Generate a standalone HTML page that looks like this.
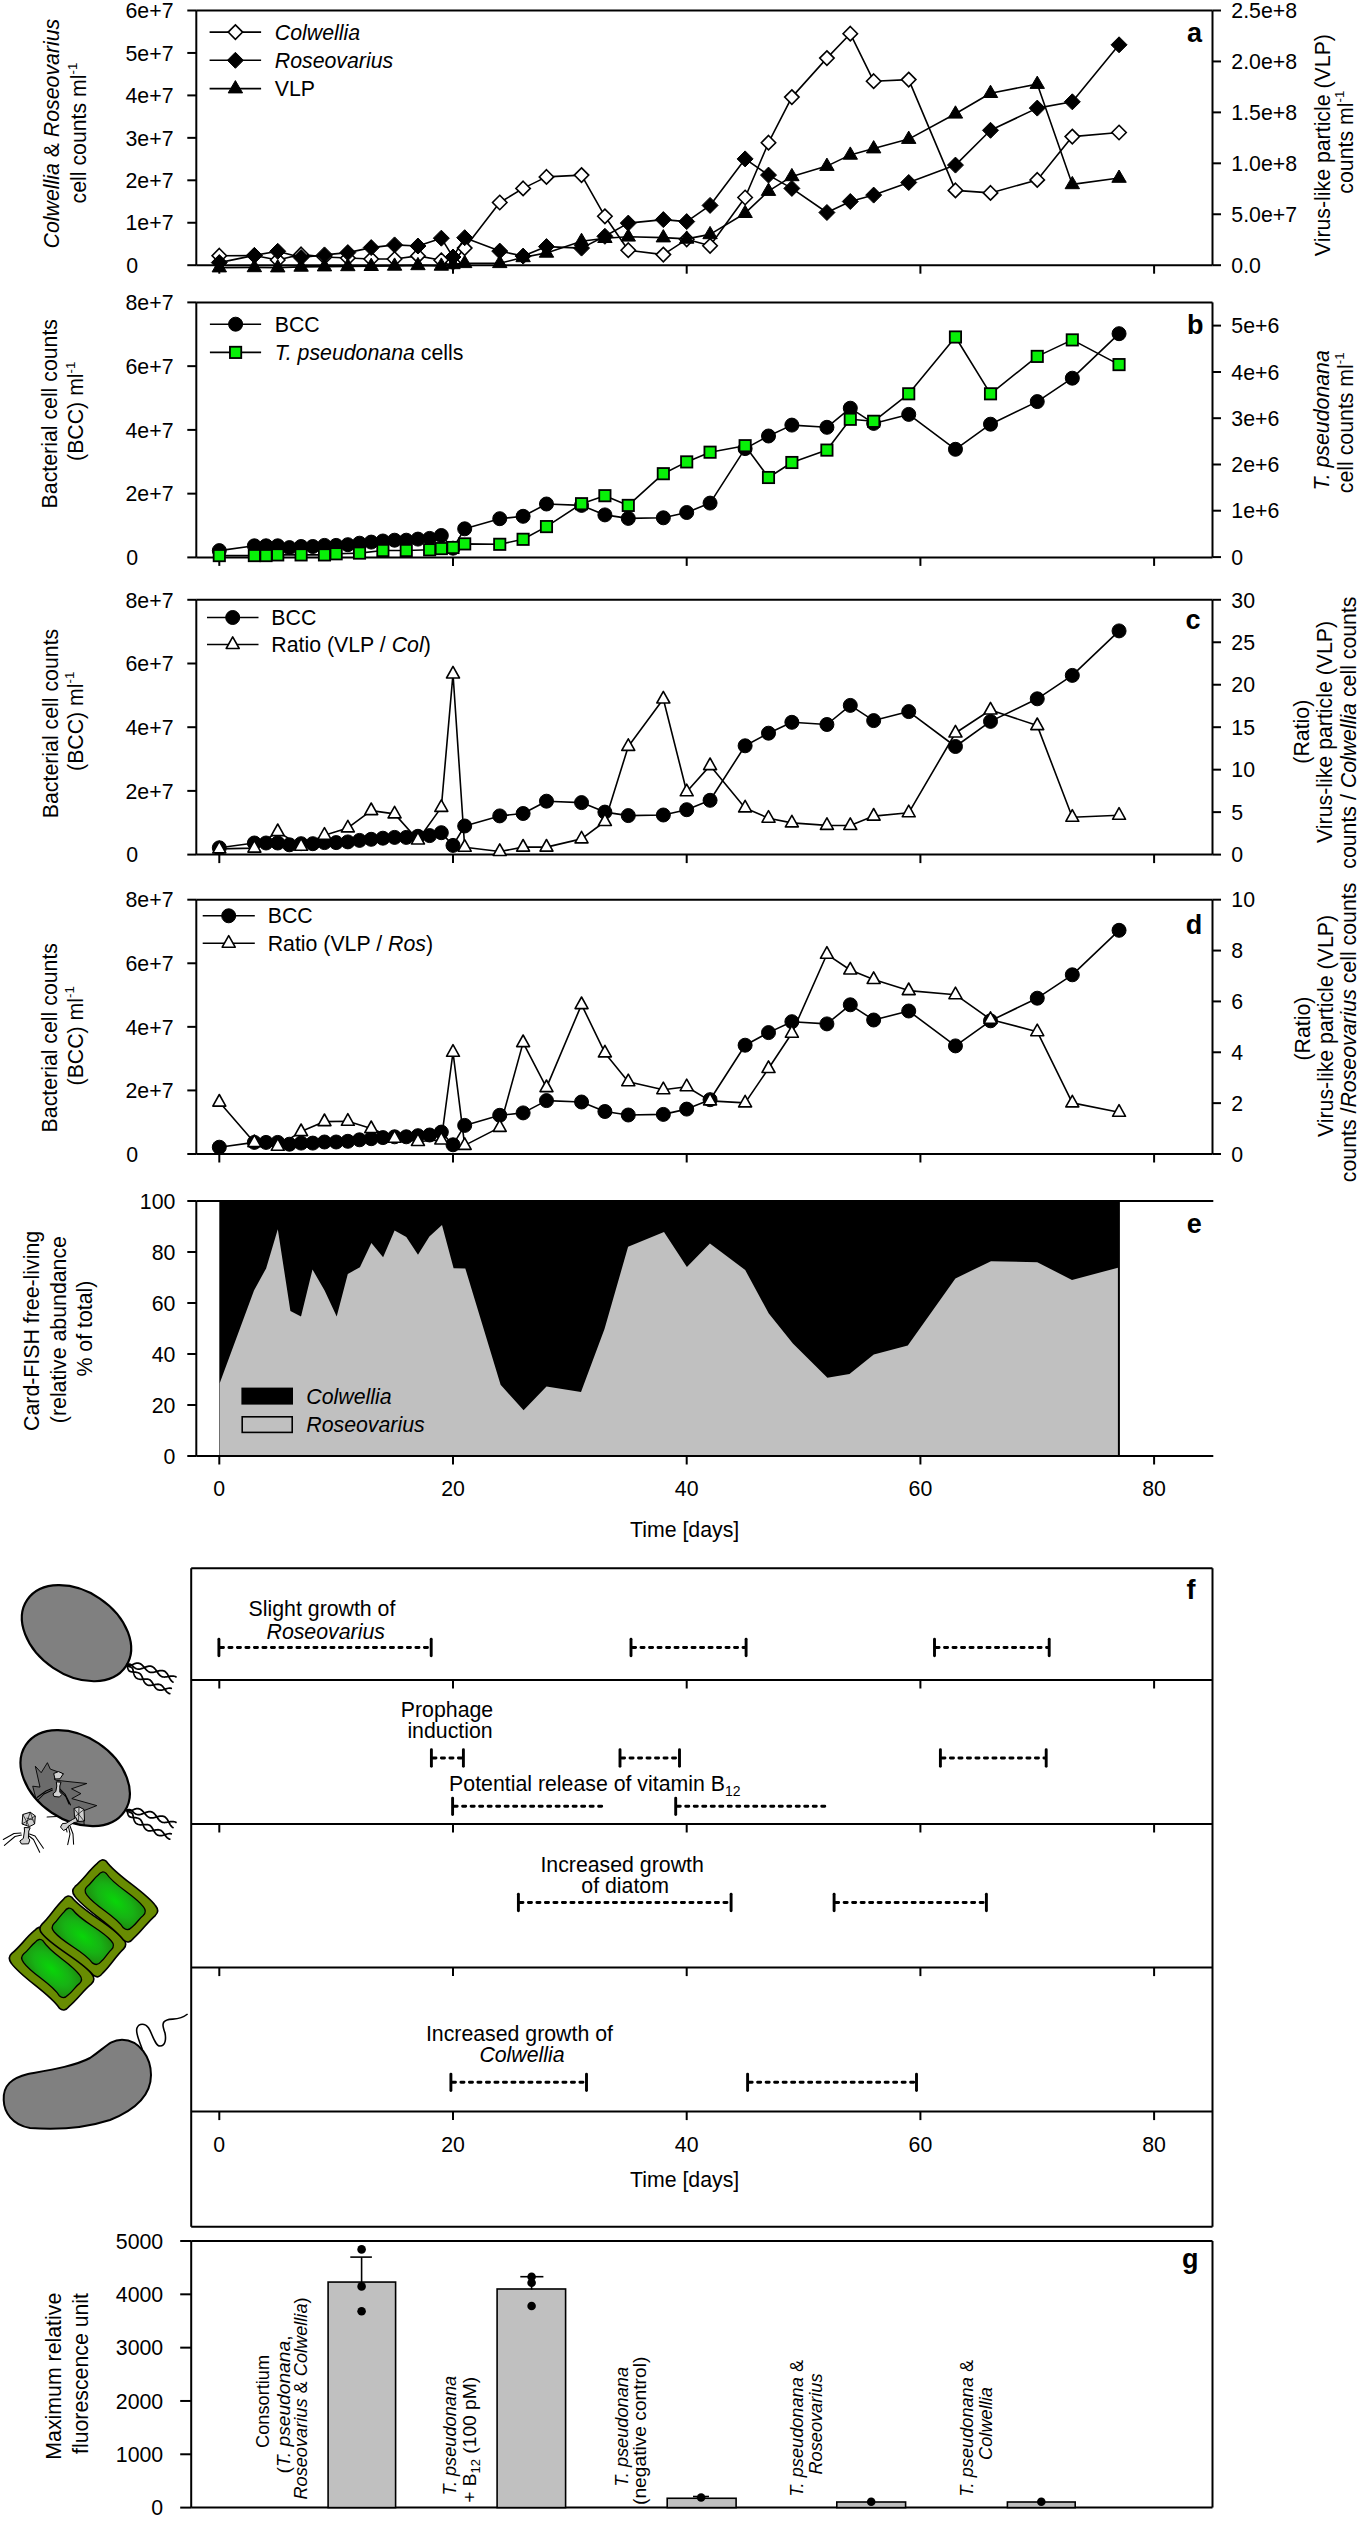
<!DOCTYPE html>
<html><head><meta charset="utf-8"><title>Figure</title>
<style>html,body{margin:0;padding:0;background:#fff;overflow:hidden;font-family:"Liberation Sans",sans-serif;}svg{display:block;}text{fill:#000;}</style>
</head><body>
<svg width="1359" height="2521" viewBox="0 0 1359 2521" font-family="'Liberation Sans', sans-serif">
<rect width="1359" height="2521" fill="#fff"/>
<line x1="196.3" y1="10.5" x2="196.3" y2="265.2" stroke="#000" stroke-width="2" />
<line x1="196.3" y1="10.5" x2="1212.5" y2="10.5" stroke="#000" stroke-width="2" />
<line x1="196.3" y1="265.2" x2="1212.5" y2="265.2" stroke="#000" stroke-width="2" />
<line x1="1212.5" y1="10.5" x2="1212.5" y2="265.2" stroke="#000" stroke-width="2" />
<line x1="187.3" y1="265.2" x2="196.3" y2="265.2" stroke="#000" stroke-width="2" />
<text x="126.3" y="272.9" font-size="21.3" >0</text>
<line x1="187.3" y1="222.75" x2="196.3" y2="222.75" stroke="#000" stroke-width="2" />
<text x="173.5" y="230.45" font-size="21.3" text-anchor="end" >1e+7</text>
<line x1="187.3" y1="180.3" x2="196.3" y2="180.3" stroke="#000" stroke-width="2" />
<text x="173.5" y="188" font-size="21.3" text-anchor="end" >2e+7</text>
<line x1="187.3" y1="137.85" x2="196.3" y2="137.85" stroke="#000" stroke-width="2" />
<text x="173.5" y="145.55" font-size="21.3" text-anchor="end" >3e+7</text>
<line x1="187.3" y1="95.4" x2="196.3" y2="95.4" stroke="#000" stroke-width="2" />
<text x="173.5" y="103.1" font-size="21.3" text-anchor="end" >4e+7</text>
<line x1="187.3" y1="52.95" x2="196.3" y2="52.95" stroke="#000" stroke-width="2" />
<text x="173.5" y="60.65" font-size="21.3" text-anchor="end" >5e+7</text>
<line x1="187.3" y1="10.5" x2="196.3" y2="10.5" stroke="#000" stroke-width="2" />
<text x="173.5" y="18.2" font-size="21.3" text-anchor="end" >6e+7</text>
<line x1="1212.5" y1="265.2" x2="1221" y2="265.2" stroke="#000" stroke-width="2" />
<text x="1231.3" y="272.9" font-size="21.3" >0.0</text>
<line x1="1212.5" y1="214.26" x2="1221" y2="214.26" stroke="#000" stroke-width="2" />
<text x="1231.3" y="221.96" font-size="21.3" >5.0e+7</text>
<line x1="1212.5" y1="163.32" x2="1221" y2="163.32" stroke="#000" stroke-width="2" />
<text x="1231.3" y="171.02" font-size="21.3" >1.0e+8</text>
<line x1="1212.5" y1="112.38" x2="1221" y2="112.38" stroke="#000" stroke-width="2" />
<text x="1231.3" y="120.08" font-size="21.3" >1.5e+8</text>
<line x1="1212.5" y1="61.44" x2="1221" y2="61.44" stroke="#000" stroke-width="2" />
<text x="1231.3" y="69.14" font-size="21.3" >2.0e+8</text>
<line x1="1212.5" y1="10.5" x2="1221" y2="10.5" stroke="#000" stroke-width="2" />
<text x="1231.3" y="18.2" font-size="21.3" >2.5e+8</text>
<line x1="219.3" y1="265.2" x2="219.3" y2="273.7" stroke="#000" stroke-width="2" />
<line x1="453" y1="265.2" x2="453" y2="273.7" stroke="#000" stroke-width="2" />
<line x1="686.7" y1="265.2" x2="686.7" y2="273.7" stroke="#000" stroke-width="2" />
<line x1="920.4" y1="265.2" x2="920.4" y2="273.7" stroke="#000" stroke-width="2" />
<line x1="1154.1" y1="265.2" x2="1154.1" y2="273.7" stroke="#000" stroke-width="2" />
<polyline points="219.3,255.7 254.36,255.5 277.73,260 301.1,254.4 324.47,257 347.84,258 371.21,259 394.58,259 417.95,255.9 441.32,260.3 453,262.5 464.69,248.1 499.74,202.5 523.11,188.4 546.48,176.9 581.54,175.1 604.9,216.3 628.28,250.2 663.33,254.6 686.7,239.3 710.07,245.8 745.12,197.5 768.5,142.7 791.87,97.1 826.92,58.1 850.29,33.7 873.66,81.2 908.72,79.6 955.46,190.4 990.51,192.9 1037.25,179.9 1072.31,136.6 1119.05,132.5" fill="none" stroke="#000" stroke-width="1.6" stroke-linejoin="round"/>
<path d="M219.3 248.5L226.5 255.7L219.3 262.9L212.1 255.7Z" fill="#fff" stroke="#000" stroke-width="1.6"/>
<path d="M254.36 248.3L261.56 255.5L254.36 262.7L247.16 255.5Z" fill="#fff" stroke="#000" stroke-width="1.6"/>
<path d="M277.73 252.8L284.93 260L277.73 267.2L270.53 260Z" fill="#fff" stroke="#000" stroke-width="1.6"/>
<path d="M301.1 247.2L308.3 254.4L301.1 261.6L293.9 254.4Z" fill="#fff" stroke="#000" stroke-width="1.6"/>
<path d="M324.47 249.8L331.67 257L324.47 264.2L317.27 257Z" fill="#fff" stroke="#000" stroke-width="1.6"/>
<path d="M347.84 250.8L355.04 258L347.84 265.2L340.64 258Z" fill="#fff" stroke="#000" stroke-width="1.6"/>
<path d="M371.21 251.8L378.41 259L371.21 266.2L364.01 259Z" fill="#fff" stroke="#000" stroke-width="1.6"/>
<path d="M394.58 251.8L401.78 259L394.58 266.2L387.38 259Z" fill="#fff" stroke="#000" stroke-width="1.6"/>
<path d="M417.95 248.7L425.15 255.9L417.95 263.1L410.75 255.9Z" fill="#fff" stroke="#000" stroke-width="1.6"/>
<path d="M441.32 253.1L448.52 260.3L441.32 267.5L434.12 260.3Z" fill="#fff" stroke="#000" stroke-width="1.6"/>
<path d="M453 255.3L460.2 262.5L453 269.7L445.8 262.5Z" fill="#fff" stroke="#000" stroke-width="1.6"/>
<path d="M464.69 240.9L471.89 248.1L464.69 255.3L457.49 248.1Z" fill="#fff" stroke="#000" stroke-width="1.6"/>
<path d="M499.74 195.3L506.94 202.5L499.74 209.7L492.54 202.5Z" fill="#fff" stroke="#000" stroke-width="1.6"/>
<path d="M523.11 181.2L530.31 188.4L523.11 195.6L515.91 188.4Z" fill="#fff" stroke="#000" stroke-width="1.6"/>
<path d="M546.48 169.7L553.68 176.9L546.48 184.1L539.28 176.9Z" fill="#fff" stroke="#000" stroke-width="1.6"/>
<path d="M581.54 167.9L588.74 175.1L581.54 182.3L574.34 175.1Z" fill="#fff" stroke="#000" stroke-width="1.6"/>
<path d="M604.9 209.1L612.11 216.3L604.9 223.5L597.7 216.3Z" fill="#fff" stroke="#000" stroke-width="1.6"/>
<path d="M628.28 243L635.48 250.2L628.28 257.4L621.08 250.2Z" fill="#fff" stroke="#000" stroke-width="1.6"/>
<path d="M663.33 247.4L670.53 254.6L663.33 261.8L656.13 254.6Z" fill="#fff" stroke="#000" stroke-width="1.6"/>
<path d="M686.7 232.1L693.9 239.3L686.7 246.5L679.5 239.3Z" fill="#fff" stroke="#000" stroke-width="1.6"/>
<path d="M710.07 238.6L717.27 245.8L710.07 253L702.87 245.8Z" fill="#fff" stroke="#000" stroke-width="1.6"/>
<path d="M745.12 190.3L752.33 197.5L745.12 204.7L737.92 197.5Z" fill="#fff" stroke="#000" stroke-width="1.6"/>
<path d="M768.5 135.5L775.7 142.7L768.5 149.9L761.3 142.7Z" fill="#fff" stroke="#000" stroke-width="1.6"/>
<path d="M791.87 89.9L799.07 97.1L791.87 104.3L784.66 97.1Z" fill="#fff" stroke="#000" stroke-width="1.6"/>
<path d="M826.92 50.9L834.12 58.1L826.92 65.3L819.72 58.1Z" fill="#fff" stroke="#000" stroke-width="1.6"/>
<path d="M850.29 26.5L857.49 33.7L850.29 40.9L843.09 33.7Z" fill="#fff" stroke="#000" stroke-width="1.6"/>
<path d="M873.66 74L880.86 81.2L873.66 88.4L866.46 81.2Z" fill="#fff" stroke="#000" stroke-width="1.6"/>
<path d="M908.72 72.4L915.92 79.6L908.72 86.8L901.52 79.6Z" fill="#fff" stroke="#000" stroke-width="1.6"/>
<path d="M955.46 183.2L962.66 190.4L955.46 197.6L948.26 190.4Z" fill="#fff" stroke="#000" stroke-width="1.6"/>
<path d="M990.51 185.7L997.71 192.9L990.51 200.1L983.31 192.9Z" fill="#fff" stroke="#000" stroke-width="1.6"/>
<path d="M1037.25 172.7L1044.45 179.9L1037.25 187.1L1030.05 179.9Z" fill="#fff" stroke="#000" stroke-width="1.6"/>
<path d="M1072.31 129.4L1079.51 136.6L1072.31 143.8L1065.11 136.6Z" fill="#fff" stroke="#000" stroke-width="1.6"/>
<path d="M1119.05 125.3L1126.25 132.5L1119.05 139.7L1111.85 132.5Z" fill="#fff" stroke="#000" stroke-width="1.6"/>
<polyline points="219.3,262.6 254.36,255.4 277.73,251.3 301.1,257.5 324.47,254.9 347.84,252.6 371.21,247.6 394.58,244.9 417.95,246 441.32,238.2 453,257 464.69,237.7 499.74,251.1 523.11,256.1 546.48,246.6 581.54,248.1 604.9,236.3 628.28,223.1 663.33,219.6 686.7,221.6 710.07,205.4 745.12,158.9 768.5,175.1 791.87,188.4 826.92,212.5 850.29,201.5 873.66,195.1 908.72,182.5 955.46,165.1 990.51,130.3 1037.25,108.1 1072.31,101.8 1119.05,44.8" fill="none" stroke="#000" stroke-width="1.6" stroke-linejoin="round"/>
<path d="M219.3 254.6L227.3 262.6L219.3 270.6L211.3 262.6Z" fill="#000" stroke="#000" stroke-width="1"/>
<path d="M254.36 247.4L262.36 255.4L254.36 263.4L246.36 255.4Z" fill="#000" stroke="#000" stroke-width="1"/>
<path d="M277.73 243.3L285.73 251.3L277.73 259.3L269.73 251.3Z" fill="#000" stroke="#000" stroke-width="1"/>
<path d="M301.1 249.5L309.1 257.5L301.1 265.5L293.1 257.5Z" fill="#000" stroke="#000" stroke-width="1"/>
<path d="M324.47 246.9L332.47 254.9L324.47 262.9L316.47 254.9Z" fill="#000" stroke="#000" stroke-width="1"/>
<path d="M347.84 244.6L355.84 252.6L347.84 260.6L339.84 252.6Z" fill="#000" stroke="#000" stroke-width="1"/>
<path d="M371.21 239.6L379.21 247.6L371.21 255.6L363.21 247.6Z" fill="#000" stroke="#000" stroke-width="1"/>
<path d="M394.58 236.9L402.58 244.9L394.58 252.9L386.58 244.9Z" fill="#000" stroke="#000" stroke-width="1"/>
<path d="M417.95 238L425.95 246L417.95 254L409.95 246Z" fill="#000" stroke="#000" stroke-width="1"/>
<path d="M441.32 230.2L449.32 238.2L441.32 246.2L433.32 238.2Z" fill="#000" stroke="#000" stroke-width="1"/>
<path d="M453 249L461 257L453 265L445 257Z" fill="#000" stroke="#000" stroke-width="1"/>
<path d="M464.69 229.7L472.69 237.7L464.69 245.7L456.69 237.7Z" fill="#000" stroke="#000" stroke-width="1"/>
<path d="M499.74 243.1L507.74 251.1L499.74 259.1L491.74 251.1Z" fill="#000" stroke="#000" stroke-width="1"/>
<path d="M523.11 248.1L531.11 256.1L523.11 264.1L515.11 256.1Z" fill="#000" stroke="#000" stroke-width="1"/>
<path d="M546.48 238.6L554.48 246.6L546.48 254.6L538.48 246.6Z" fill="#000" stroke="#000" stroke-width="1"/>
<path d="M581.54 240.1L589.54 248.1L581.54 256.1L573.54 248.1Z" fill="#000" stroke="#000" stroke-width="1"/>
<path d="M604.9 228.3L612.9 236.3L604.9 244.3L596.9 236.3Z" fill="#000" stroke="#000" stroke-width="1"/>
<path d="M628.28 215.1L636.28 223.1L628.28 231.1L620.28 223.1Z" fill="#000" stroke="#000" stroke-width="1"/>
<path d="M663.33 211.6L671.33 219.6L663.33 227.6L655.33 219.6Z" fill="#000" stroke="#000" stroke-width="1"/>
<path d="M686.7 213.6L694.7 221.6L686.7 229.6L678.7 221.6Z" fill="#000" stroke="#000" stroke-width="1"/>
<path d="M710.07 197.4L718.07 205.4L710.07 213.4L702.07 205.4Z" fill="#000" stroke="#000" stroke-width="1"/>
<path d="M745.12 150.9L753.12 158.9L745.12 166.9L737.12 158.9Z" fill="#000" stroke="#000" stroke-width="1"/>
<path d="M768.5 167.1L776.5 175.1L768.5 183.1L760.5 175.1Z" fill="#000" stroke="#000" stroke-width="1"/>
<path d="M791.87 180.4L799.87 188.4L791.87 196.4L783.87 188.4Z" fill="#000" stroke="#000" stroke-width="1"/>
<path d="M826.92 204.5L834.92 212.5L826.92 220.5L818.92 212.5Z" fill="#000" stroke="#000" stroke-width="1"/>
<path d="M850.29 193.5L858.29 201.5L850.29 209.5L842.29 201.5Z" fill="#000" stroke="#000" stroke-width="1"/>
<path d="M873.66 187.1L881.66 195.1L873.66 203.1L865.66 195.1Z" fill="#000" stroke="#000" stroke-width="1"/>
<path d="M908.72 174.5L916.72 182.5L908.72 190.5L900.72 182.5Z" fill="#000" stroke="#000" stroke-width="1"/>
<path d="M955.46 157.1L963.46 165.1L955.46 173.1L947.46 165.1Z" fill="#000" stroke="#000" stroke-width="1"/>
<path d="M990.51 122.3L998.51 130.3L990.51 138.3L982.51 130.3Z" fill="#000" stroke="#000" stroke-width="1"/>
<path d="M1037.25 100.1L1045.25 108.1L1037.25 116.1L1029.25 108.1Z" fill="#000" stroke="#000" stroke-width="1"/>
<path d="M1072.31 93.8L1080.31 101.8L1072.31 109.8L1064.31 101.8Z" fill="#000" stroke="#000" stroke-width="1"/>
<path d="M1119.05 36.8L1127.05 44.8L1119.05 52.8L1111.05 44.8Z" fill="#000" stroke="#000" stroke-width="1"/>
<polyline points="219.3,267.6 254.36,267.4 277.73,267.6 301.1,266.9 324.47,266.6 347.84,266.4 371.21,266.2 394.58,265.9 417.95,265.4 441.32,265.9 453,264.4 464.69,263.3 499.74,263.3 523.11,257.4 546.48,252.9 581.54,241.2 604.9,238.2 628.28,236.8 663.33,237.6 686.7,238.9 710.07,234.4 745.12,213.2 768.5,191.1 791.87,176.4 826.92,166.1 850.29,154.9 873.66,148.6 908.72,139.1 955.46,113.8 990.51,93.2 1037.25,84.1 1072.31,184.4 1119.05,178" fill="none" stroke="#000" stroke-width="1.6" stroke-linejoin="round"/>
<path d="M219.3 259.6L226.5 271.9L212.1 271.9Z" fill="#000" stroke="#000" stroke-width="1" stroke-linejoin="round"/>
<path d="M254.36 259.4L261.56 271.7L247.16 271.7Z" fill="#000" stroke="#000" stroke-width="1" stroke-linejoin="round"/>
<path d="M277.73 259.6L284.93 271.9L270.53 271.9Z" fill="#000" stroke="#000" stroke-width="1" stroke-linejoin="round"/>
<path d="M301.1 258.9L308.3 271.2L293.9 271.2Z" fill="#000" stroke="#000" stroke-width="1" stroke-linejoin="round"/>
<path d="M324.47 258.6L331.67 270.9L317.27 270.9Z" fill="#000" stroke="#000" stroke-width="1" stroke-linejoin="round"/>
<path d="M347.84 258.4L355.04 270.7L340.64 270.7Z" fill="#000" stroke="#000" stroke-width="1" stroke-linejoin="round"/>
<path d="M371.21 258.2L378.41 270.5L364.01 270.5Z" fill="#000" stroke="#000" stroke-width="1" stroke-linejoin="round"/>
<path d="M394.58 257.9L401.78 270.2L387.38 270.2Z" fill="#000" stroke="#000" stroke-width="1" stroke-linejoin="round"/>
<path d="M417.95 257.4L425.15 269.7L410.75 269.7Z" fill="#000" stroke="#000" stroke-width="1" stroke-linejoin="round"/>
<path d="M441.32 257.9L448.52 270.2L434.12 270.2Z" fill="#000" stroke="#000" stroke-width="1" stroke-linejoin="round"/>
<path d="M453 256.4L460.2 268.7L445.8 268.7Z" fill="#000" stroke="#000" stroke-width="1" stroke-linejoin="round"/>
<path d="M464.69 255.3L471.89 267.6L457.49 267.6Z" fill="#000" stroke="#000" stroke-width="1" stroke-linejoin="round"/>
<path d="M499.74 255.3L506.94 267.6L492.54 267.6Z" fill="#000" stroke="#000" stroke-width="1" stroke-linejoin="round"/>
<path d="M523.11 249.4L530.31 261.7L515.91 261.7Z" fill="#000" stroke="#000" stroke-width="1" stroke-linejoin="round"/>
<path d="M546.48 244.9L553.68 257.2L539.28 257.2Z" fill="#000" stroke="#000" stroke-width="1" stroke-linejoin="round"/>
<path d="M581.54 233.2L588.74 245.5L574.34 245.5Z" fill="#000" stroke="#000" stroke-width="1" stroke-linejoin="round"/>
<path d="M604.9 230.2L612.11 242.5L597.7 242.5Z" fill="#000" stroke="#000" stroke-width="1" stroke-linejoin="round"/>
<path d="M628.28 228.8L635.48 241.1L621.08 241.1Z" fill="#000" stroke="#000" stroke-width="1" stroke-linejoin="round"/>
<path d="M663.33 229.6L670.53 241.9L656.13 241.9Z" fill="#000" stroke="#000" stroke-width="1" stroke-linejoin="round"/>
<path d="M686.7 230.9L693.9 243.2L679.5 243.2Z" fill="#000" stroke="#000" stroke-width="1" stroke-linejoin="round"/>
<path d="M710.07 226.4L717.27 238.7L702.87 238.7Z" fill="#000" stroke="#000" stroke-width="1" stroke-linejoin="round"/>
<path d="M745.12 205.2L752.33 217.5L737.92 217.5Z" fill="#000" stroke="#000" stroke-width="1" stroke-linejoin="round"/>
<path d="M768.5 183.1L775.7 195.4L761.3 195.4Z" fill="#000" stroke="#000" stroke-width="1" stroke-linejoin="round"/>
<path d="M791.87 168.4L799.07 180.7L784.66 180.7Z" fill="#000" stroke="#000" stroke-width="1" stroke-linejoin="round"/>
<path d="M826.92 158.1L834.12 170.4L819.72 170.4Z" fill="#000" stroke="#000" stroke-width="1" stroke-linejoin="round"/>
<path d="M850.29 146.9L857.49 159.2L843.09 159.2Z" fill="#000" stroke="#000" stroke-width="1" stroke-linejoin="round"/>
<path d="M873.66 140.6L880.86 152.9L866.46 152.9Z" fill="#000" stroke="#000" stroke-width="1" stroke-linejoin="round"/>
<path d="M908.72 131.1L915.92 143.4L901.52 143.4Z" fill="#000" stroke="#000" stroke-width="1" stroke-linejoin="round"/>
<path d="M955.46 105.8L962.66 118.1L948.26 118.1Z" fill="#000" stroke="#000" stroke-width="1" stroke-linejoin="round"/>
<path d="M990.51 85.2L997.71 97.5L983.31 97.5Z" fill="#000" stroke="#000" stroke-width="1" stroke-linejoin="round"/>
<path d="M1037.25 76.1L1044.45 88.4L1030.05 88.4Z" fill="#000" stroke="#000" stroke-width="1" stroke-linejoin="round"/>
<path d="M1072.31 176.4L1079.51 188.7L1065.11 188.7Z" fill="#000" stroke="#000" stroke-width="1" stroke-linejoin="round"/>
<path d="M1119.05 170L1126.25 182.3L1111.85 182.3Z" fill="#000" stroke="#000" stroke-width="1" stroke-linejoin="round"/>
<line x1="209.6" y1="32.1" x2="261.1" y2="32.1" stroke="#000" stroke-width="1.6" />
<path d="M235.4 24.9L242.6 32.1L235.4 39.3L228.2 32.1Z" fill="#fff" stroke="#000" stroke-width="1.6"/>
<text x="274.8" y="39.6" font-size="21.3" ><tspan font-style="italic">Colwellia</tspan></text>
<line x1="209.6" y1="60.3" x2="261.1" y2="60.3" stroke="#000" stroke-width="1.6" />
<path d="M235.4 52.3L243.4 60.3L235.4 68.3L227.4 60.3Z" fill="#000" stroke="#000" stroke-width="1"/>
<text x="274.8" y="67.8" font-size="21.3" ><tspan font-style="italic">Roseovarius</tspan></text>
<line x1="209.6" y1="88.6" x2="261.1" y2="88.6" stroke="#000" stroke-width="1.6" />
<path d="M235.4 80.6L242.6 92.9L228.2 92.9Z" fill="#000" stroke="#000" stroke-width="1" stroke-linejoin="round"/>
<text x="274.8" y="96.1" font-size="21.3" >VLP</text>
<text x="1186.95" y="41.75" font-size="27" font-weight="bold" >a</text>
<text x="59.1" y="133.6" font-size="21.3" text-anchor="middle" transform="rotate(-90 59.1 133.6)" ><tspan font-style="italic">Colwellia</tspan> &amp; <tspan font-style="italic">Roseovarius</tspan></text>
<text x="85.7" y="133.1" font-size="21.3" text-anchor="middle" transform="rotate(-90 85.7 133.1)" >cell counts ml<tspan font-size="13.2" dy="-8.8">-1</tspan></text>
<text x="1329.9" y="145.1" font-size="21.3" text-anchor="middle" transform="rotate(-90 1329.9 145.1)" >Virus-like particle (VLP)</text>
<text x="1353.3" y="142.2" font-size="21.3" text-anchor="middle" transform="rotate(-90 1353.3 142.2)" >counts ml<tspan font-size="13.2" dy="-8.8">-1</tspan></text>
<line x1="196.3" y1="302.4" x2="196.3" y2="557.4" stroke="#000" stroke-width="2" />
<line x1="196.3" y1="302.4" x2="1212.5" y2="302.4" stroke="#000" stroke-width="2" />
<line x1="196.3" y1="557.4" x2="1212.5" y2="557.4" stroke="#000" stroke-width="2" />
<line x1="1212.5" y1="302.4" x2="1212.5" y2="557.4" stroke="#000" stroke-width="2" />
<line x1="187.3" y1="557.4" x2="196.3" y2="557.4" stroke="#000" stroke-width="2" />
<text x="126.3" y="565.1" font-size="21.3" >0</text>
<line x1="187.3" y1="493.65" x2="196.3" y2="493.65" stroke="#000" stroke-width="2" />
<text x="173.5" y="501.35" font-size="21.3" text-anchor="end" >2e+7</text>
<line x1="187.3" y1="429.9" x2="196.3" y2="429.9" stroke="#000" stroke-width="2" />
<text x="173.5" y="437.6" font-size="21.3" text-anchor="end" >4e+7</text>
<line x1="187.3" y1="366.15" x2="196.3" y2="366.15" stroke="#000" stroke-width="2" />
<text x="173.5" y="373.85" font-size="21.3" text-anchor="end" >6e+7</text>
<line x1="187.3" y1="302.4" x2="196.3" y2="302.4" stroke="#000" stroke-width="2" />
<text x="173.5" y="310.1" font-size="21.3" text-anchor="end" >8e+7</text>
<line x1="1212.5" y1="557.1" x2="1221" y2="557.1" stroke="#000" stroke-width="2" />
<text x="1231.3" y="564.8" font-size="21.3" >0</text>
<line x1="1212.5" y1="510.7" x2="1221" y2="510.7" stroke="#000" stroke-width="2" />
<text x="1231.3" y="518.4" font-size="21.3" >1e+6</text>
<line x1="1212.5" y1="464.5" x2="1221" y2="464.5" stroke="#000" stroke-width="2" />
<text x="1231.3" y="472.2" font-size="21.3" >2e+6</text>
<line x1="1212.5" y1="418.2" x2="1221" y2="418.2" stroke="#000" stroke-width="2" />
<text x="1231.3" y="425.9" font-size="21.3" >3e+6</text>
<line x1="1212.5" y1="372" x2="1221" y2="372" stroke="#000" stroke-width="2" />
<text x="1231.3" y="379.7" font-size="21.3" >4e+6</text>
<line x1="1212.5" y1="325.6" x2="1221" y2="325.6" stroke="#000" stroke-width="2" />
<text x="1231.3" y="333.3" font-size="21.3" >5e+6</text>
<line x1="219.3" y1="557.4" x2="219.3" y2="565.9" stroke="#000" stroke-width="2" />
<line x1="453" y1="557.4" x2="453" y2="565.9" stroke="#000" stroke-width="2" />
<line x1="686.7" y1="557.4" x2="686.7" y2="565.9" stroke="#000" stroke-width="2" />
<line x1="920.4" y1="557.4" x2="920.4" y2="565.9" stroke="#000" stroke-width="2" />
<line x1="1154.1" y1="557.4" x2="1154.1" y2="565.9" stroke="#000" stroke-width="2" />
<polyline points="219.3,550.6 254.36,545.8 266.04,545.8 277.73,545.8 289.41,547.6 301.1,546.5 312.78,546.5 324.47,545.4 336.15,545.4 347.84,544.7 359.52,543.2 371.21,542.1 382.89,541 394.58,540.2 406.26,540.2 417.95,539.1 429.63,538.4 441.32,535.5 453,548.2 464.69,528.8 499.74,518.7 523.11,516.3 546.48,504 581.54,505.4 604.9,514.9 628.28,518.4 663.33,517.8 686.7,512.5 710.07,503.1 745.12,448.6 768.5,436 791.87,425.1 826.92,427.3 850.29,408.2 873.66,423.4 908.72,414.4 955.46,449.3 990.51,424.2 1037.25,401.6 1072.31,378.2 1119.05,333.7" fill="none" stroke="#000" stroke-width="1.6" stroke-linejoin="round"/>
<circle cx="219.3" cy="550.6" r="7.0" fill="#000" stroke="#000" stroke-width="1"/>
<circle cx="254.36" cy="545.8" r="7.0" fill="#000" stroke="#000" stroke-width="1"/>
<circle cx="266.04" cy="545.8" r="7.0" fill="#000" stroke="#000" stroke-width="1"/>
<circle cx="277.73" cy="545.8" r="7.0" fill="#000" stroke="#000" stroke-width="1"/>
<circle cx="289.41" cy="547.6" r="7.0" fill="#000" stroke="#000" stroke-width="1"/>
<circle cx="301.1" cy="546.5" r="7.0" fill="#000" stroke="#000" stroke-width="1"/>
<circle cx="312.78" cy="546.5" r="7.0" fill="#000" stroke="#000" stroke-width="1"/>
<circle cx="324.47" cy="545.4" r="7.0" fill="#000" stroke="#000" stroke-width="1"/>
<circle cx="336.15" cy="545.4" r="7.0" fill="#000" stroke="#000" stroke-width="1"/>
<circle cx="347.84" cy="544.7" r="7.0" fill="#000" stroke="#000" stroke-width="1"/>
<circle cx="359.52" cy="543.2" r="7.0" fill="#000" stroke="#000" stroke-width="1"/>
<circle cx="371.21" cy="542.1" r="7.0" fill="#000" stroke="#000" stroke-width="1"/>
<circle cx="382.89" cy="541" r="7.0" fill="#000" stroke="#000" stroke-width="1"/>
<circle cx="394.58" cy="540.2" r="7.0" fill="#000" stroke="#000" stroke-width="1"/>
<circle cx="406.26" cy="540.2" r="7.0" fill="#000" stroke="#000" stroke-width="1"/>
<circle cx="417.95" cy="539.1" r="7.0" fill="#000" stroke="#000" stroke-width="1"/>
<circle cx="429.63" cy="538.4" r="7.0" fill="#000" stroke="#000" stroke-width="1"/>
<circle cx="441.32" cy="535.5" r="7.0" fill="#000" stroke="#000" stroke-width="1"/>
<circle cx="453" cy="548.2" r="7.0" fill="#000" stroke="#000" stroke-width="1"/>
<circle cx="464.69" cy="528.8" r="7.0" fill="#000" stroke="#000" stroke-width="1"/>
<circle cx="499.74" cy="518.7" r="7.0" fill="#000" stroke="#000" stroke-width="1"/>
<circle cx="523.11" cy="516.3" r="7.0" fill="#000" stroke="#000" stroke-width="1"/>
<circle cx="546.48" cy="504" r="7.0" fill="#000" stroke="#000" stroke-width="1"/>
<circle cx="581.54" cy="505.4" r="7.0" fill="#000" stroke="#000" stroke-width="1"/>
<circle cx="604.9" cy="514.9" r="7.0" fill="#000" stroke="#000" stroke-width="1"/>
<circle cx="628.28" cy="518.4" r="7.0" fill="#000" stroke="#000" stroke-width="1"/>
<circle cx="663.33" cy="517.8" r="7.0" fill="#000" stroke="#000" stroke-width="1"/>
<circle cx="686.7" cy="512.5" r="7.0" fill="#000" stroke="#000" stroke-width="1"/>
<circle cx="710.07" cy="503.1" r="7.0" fill="#000" stroke="#000" stroke-width="1"/>
<circle cx="745.12" cy="448.6" r="7.0" fill="#000" stroke="#000" stroke-width="1"/>
<circle cx="768.5" cy="436" r="7.0" fill="#000" stroke="#000" stroke-width="1"/>
<circle cx="791.87" cy="425.1" r="7.0" fill="#000" stroke="#000" stroke-width="1"/>
<circle cx="826.92" cy="427.3" r="7.0" fill="#000" stroke="#000" stroke-width="1"/>
<circle cx="850.29" cy="408.2" r="7.0" fill="#000" stroke="#000" stroke-width="1"/>
<circle cx="873.66" cy="423.4" r="7.0" fill="#000" stroke="#000" stroke-width="1"/>
<circle cx="908.72" cy="414.4" r="7.0" fill="#000" stroke="#000" stroke-width="1"/>
<circle cx="955.46" cy="449.3" r="7.0" fill="#000" stroke="#000" stroke-width="1"/>
<circle cx="990.51" cy="424.2" r="7.0" fill="#000" stroke="#000" stroke-width="1"/>
<circle cx="1037.25" cy="401.6" r="7.0" fill="#000" stroke="#000" stroke-width="1"/>
<circle cx="1072.31" cy="378.2" r="7.0" fill="#000" stroke="#000" stroke-width="1"/>
<circle cx="1119.05" cy="333.7" r="7.0" fill="#000" stroke="#000" stroke-width="1"/>
<polyline points="219.3,555.6 254.36,555.6 266.04,555.6 277.73,554.9 301.1,554.9 324.47,554.9 336.15,553.8 359.52,553.1 382.89,550.5 406.26,550.5 429.63,549.8 441.32,548.6 453,547.5 464.69,543.9 499.74,544.3 523.11,539.3 546.48,526.6 581.54,503.7 604.9,495.7 628.28,505.4 663.33,473.7 686.7,461.9 710.07,452.2 745.12,445.7 768.5,477.5 791.87,462.5 826.92,450.1 850.29,419.3 873.66,421.3 908.72,393.8 955.46,337 990.51,393.8 1037.25,356.4 1072.31,339.9 1119.05,364.6" fill="none" stroke="#000" stroke-width="1.6" stroke-linejoin="round"/>
<rect x="213.65" y="549.95" width="11.3" height="11.3" fill="#08f008" stroke="#000" stroke-width="1.8"/>
<rect x="248.71" y="549.95" width="11.3" height="11.3" fill="#08f008" stroke="#000" stroke-width="1.8"/>
<rect x="260.39" y="549.95" width="11.3" height="11.3" fill="#08f008" stroke="#000" stroke-width="1.8"/>
<rect x="272.08" y="549.25" width="11.3" height="11.3" fill="#08f008" stroke="#000" stroke-width="1.8"/>
<rect x="295.45" y="549.25" width="11.3" height="11.3" fill="#08f008" stroke="#000" stroke-width="1.8"/>
<rect x="318.82" y="549.25" width="11.3" height="11.3" fill="#08f008" stroke="#000" stroke-width="1.8"/>
<rect x="330.5" y="548.15" width="11.3" height="11.3" fill="#08f008" stroke="#000" stroke-width="1.8"/>
<rect x="353.87" y="547.45" width="11.3" height="11.3" fill="#08f008" stroke="#000" stroke-width="1.8"/>
<rect x="377.24" y="544.85" width="11.3" height="11.3" fill="#08f008" stroke="#000" stroke-width="1.8"/>
<rect x="400.61" y="544.85" width="11.3" height="11.3" fill="#08f008" stroke="#000" stroke-width="1.8"/>
<rect x="423.98" y="544.15" width="11.3" height="11.3" fill="#08f008" stroke="#000" stroke-width="1.8"/>
<rect x="435.67" y="542.95" width="11.3" height="11.3" fill="#08f008" stroke="#000" stroke-width="1.8"/>
<rect x="447.35" y="541.85" width="11.3" height="11.3" fill="#08f008" stroke="#000" stroke-width="1.8"/>
<rect x="459.04" y="538.25" width="11.3" height="11.3" fill="#08f008" stroke="#000" stroke-width="1.8"/>
<rect x="494.09" y="538.65" width="11.3" height="11.3" fill="#08f008" stroke="#000" stroke-width="1.8"/>
<rect x="517.46" y="533.65" width="11.3" height="11.3" fill="#08f008" stroke="#000" stroke-width="1.8"/>
<rect x="540.83" y="520.95" width="11.3" height="11.3" fill="#08f008" stroke="#000" stroke-width="1.8"/>
<rect x="575.89" y="498.05" width="11.3" height="11.3" fill="#08f008" stroke="#000" stroke-width="1.8"/>
<rect x="599.25" y="490.05" width="11.3" height="11.3" fill="#08f008" stroke="#000" stroke-width="1.8"/>
<rect x="622.63" y="499.75" width="11.3" height="11.3" fill="#08f008" stroke="#000" stroke-width="1.8"/>
<rect x="657.68" y="468.05" width="11.3" height="11.3" fill="#08f008" stroke="#000" stroke-width="1.8"/>
<rect x="681.05" y="456.25" width="11.3" height="11.3" fill="#08f008" stroke="#000" stroke-width="1.8"/>
<rect x="704.42" y="446.55" width="11.3" height="11.3" fill="#08f008" stroke="#000" stroke-width="1.8"/>
<rect x="739.48" y="440.05" width="11.3" height="11.3" fill="#08f008" stroke="#000" stroke-width="1.8"/>
<rect x="762.85" y="471.85" width="11.3" height="11.3" fill="#08f008" stroke="#000" stroke-width="1.8"/>
<rect x="786.22" y="456.85" width="11.3" height="11.3" fill="#08f008" stroke="#000" stroke-width="1.8"/>
<rect x="821.27" y="444.45" width="11.3" height="11.3" fill="#08f008" stroke="#000" stroke-width="1.8"/>
<rect x="844.64" y="413.65" width="11.3" height="11.3" fill="#08f008" stroke="#000" stroke-width="1.8"/>
<rect x="868.01" y="415.65" width="11.3" height="11.3" fill="#08f008" stroke="#000" stroke-width="1.8"/>
<rect x="903.07" y="388.15" width="11.3" height="11.3" fill="#08f008" stroke="#000" stroke-width="1.8"/>
<rect x="949.81" y="331.35" width="11.3" height="11.3" fill="#08f008" stroke="#000" stroke-width="1.8"/>
<rect x="984.86" y="388.15" width="11.3" height="11.3" fill="#08f008" stroke="#000" stroke-width="1.8"/>
<rect x="1031.6" y="350.75" width="11.3" height="11.3" fill="#08f008" stroke="#000" stroke-width="1.8"/>
<rect x="1066.65" y="334.25" width="11.3" height="11.3" fill="#08f008" stroke="#000" stroke-width="1.8"/>
<rect x="1113.39" y="358.95" width="11.3" height="11.3" fill="#08f008" stroke="#000" stroke-width="1.8"/>
<line x1="209.9" y1="324.2" x2="261.1" y2="324.2" stroke="#000" stroke-width="1.6" />
<circle cx="235.6" cy="324.2" r="7.0" fill="#000" stroke="#000" stroke-width="1"/>
<text x="274.7" y="331.7" font-size="21.3" >BCC</text>
<line x1="209.9" y1="352.4" x2="261.1" y2="352.4" stroke="#000" stroke-width="1.6" />
<rect x="229.95" y="346.75" width="11.3" height="11.3" fill="#08f008" stroke="#000" stroke-width="1.8"/>
<text x="274.7" y="359.9" font-size="21.3" ><tspan font-style="italic">T. pseudonana</tspan> cells</text>
<text x="1187.05" y="333.95" font-size="27" font-weight="bold" >b</text>
<text x="57.3" y="413.7" font-size="21.3" text-anchor="middle" transform="rotate(-90 57.3 413.7)" >Bacterial cell counts</text>
<text x="83.5" y="411.3" font-size="21.3" text-anchor="middle" transform="rotate(-90 83.5 411.3)" >(BCC) ml<tspan font-size="13.2" dy="-8.8">-1</tspan></text>
<text x="1329.5" y="420.3" font-size="21.3" text-anchor="middle" transform="rotate(-90 1329.5 420.3)" ><tspan font-style="italic">T. pseudonana</tspan></text>
<text x="1353" y="422.8" font-size="21.3" text-anchor="middle" transform="rotate(-90 1353 422.8)" >cell counts ml<tspan font-size="13.2" dy="-8.8">-1</tspan></text>
<line x1="196.3" y1="599.8" x2="196.3" y2="854.6" stroke="#000" stroke-width="2" />
<line x1="196.3" y1="599.8" x2="1212.5" y2="599.8" stroke="#000" stroke-width="2" />
<line x1="196.3" y1="854.6" x2="1212.5" y2="854.6" stroke="#000" stroke-width="2" />
<line x1="1212.5" y1="599.8" x2="1212.5" y2="854.6" stroke="#000" stroke-width="2" />
<line x1="187.3" y1="854.6" x2="196.3" y2="854.6" stroke="#000" stroke-width="2" />
<text x="126.3" y="862.3" font-size="21.3" >0</text>
<line x1="187.3" y1="790.9" x2="196.3" y2="790.9" stroke="#000" stroke-width="2" />
<text x="173.5" y="798.6" font-size="21.3" text-anchor="end" >2e+7</text>
<line x1="187.3" y1="727.2" x2="196.3" y2="727.2" stroke="#000" stroke-width="2" />
<text x="173.5" y="734.9" font-size="21.3" text-anchor="end" >4e+7</text>
<line x1="187.3" y1="663.5" x2="196.3" y2="663.5" stroke="#000" stroke-width="2" />
<text x="173.5" y="671.2" font-size="21.3" text-anchor="end" >6e+7</text>
<line x1="187.3" y1="599.8" x2="196.3" y2="599.8" stroke="#000" stroke-width="2" />
<text x="173.5" y="607.5" font-size="21.3" text-anchor="end" >8e+7</text>
<line x1="1212.5" y1="854.6" x2="1221" y2="854.6" stroke="#000" stroke-width="2" />
<text x="1231.3" y="862.3" font-size="21.3" >0</text>
<line x1="1212.5" y1="812.13" x2="1221" y2="812.13" stroke="#000" stroke-width="2" />
<text x="1231.3" y="819.83" font-size="21.3" >5</text>
<line x1="1212.5" y1="769.67" x2="1221" y2="769.67" stroke="#000" stroke-width="2" />
<text x="1231.3" y="777.37" font-size="21.3" >10</text>
<line x1="1212.5" y1="727.2" x2="1221" y2="727.2" stroke="#000" stroke-width="2" />
<text x="1231.3" y="734.9" font-size="21.3" >15</text>
<line x1="1212.5" y1="684.73" x2="1221" y2="684.73" stroke="#000" stroke-width="2" />
<text x="1231.3" y="692.43" font-size="21.3" >20</text>
<line x1="1212.5" y1="642.27" x2="1221" y2="642.27" stroke="#000" stroke-width="2" />
<text x="1231.3" y="649.97" font-size="21.3" >25</text>
<line x1="1212.5" y1="599.8" x2="1221" y2="599.8" stroke="#000" stroke-width="2" />
<text x="1231.3" y="607.5" font-size="21.3" >30</text>
<line x1="219.3" y1="854.6" x2="219.3" y2="863.1" stroke="#000" stroke-width="2" />
<line x1="453" y1="854.6" x2="453" y2="863.1" stroke="#000" stroke-width="2" />
<line x1="686.7" y1="854.6" x2="686.7" y2="863.1" stroke="#000" stroke-width="2" />
<line x1="920.4" y1="854.6" x2="920.4" y2="863.1" stroke="#000" stroke-width="2" />
<line x1="1154.1" y1="854.6" x2="1154.1" y2="863.1" stroke="#000" stroke-width="2" />
<polyline points="219.3,847.8 254.36,843 266.04,843 277.73,843 289.41,844.8 301.1,843.7 312.78,843.7 324.47,842.6 336.15,842.6 347.84,841.9 359.52,840.4 371.21,839.3 382.89,838.2 394.58,837.4 406.26,837.4 417.95,836.3 429.63,835.6 441.32,832.7 453,845.4 464.69,826 499.74,815.9 523.11,813.5 546.48,801.2 581.54,802.6 604.9,812.1 628.28,815.6 663.33,815 686.7,809.7 710.07,800.3 745.12,745.8 768.5,733.2 791.87,722.3 826.92,724.5 850.29,705.4 873.66,720.6 908.72,711.6 955.46,746.5 990.51,721.4 1037.25,698.8 1072.31,675.4 1119.05,630.9" fill="none" stroke="#000" stroke-width="1.6" stroke-linejoin="round"/>
<circle cx="219.3" cy="847.8" r="7.0" fill="#000" stroke="#000" stroke-width="1"/>
<circle cx="254.36" cy="843" r="7.0" fill="#000" stroke="#000" stroke-width="1"/>
<circle cx="266.04" cy="843" r="7.0" fill="#000" stroke="#000" stroke-width="1"/>
<circle cx="277.73" cy="843" r="7.0" fill="#000" stroke="#000" stroke-width="1"/>
<circle cx="289.41" cy="844.8" r="7.0" fill="#000" stroke="#000" stroke-width="1"/>
<circle cx="301.1" cy="843.7" r="7.0" fill="#000" stroke="#000" stroke-width="1"/>
<circle cx="312.78" cy="843.7" r="7.0" fill="#000" stroke="#000" stroke-width="1"/>
<circle cx="324.47" cy="842.6" r="7.0" fill="#000" stroke="#000" stroke-width="1"/>
<circle cx="336.15" cy="842.6" r="7.0" fill="#000" stroke="#000" stroke-width="1"/>
<circle cx="347.84" cy="841.9" r="7.0" fill="#000" stroke="#000" stroke-width="1"/>
<circle cx="359.52" cy="840.4" r="7.0" fill="#000" stroke="#000" stroke-width="1"/>
<circle cx="371.21" cy="839.3" r="7.0" fill="#000" stroke="#000" stroke-width="1"/>
<circle cx="382.89" cy="838.2" r="7.0" fill="#000" stroke="#000" stroke-width="1"/>
<circle cx="394.58" cy="837.4" r="7.0" fill="#000" stroke="#000" stroke-width="1"/>
<circle cx="406.26" cy="837.4" r="7.0" fill="#000" stroke="#000" stroke-width="1"/>
<circle cx="417.95" cy="836.3" r="7.0" fill="#000" stroke="#000" stroke-width="1"/>
<circle cx="429.63" cy="835.6" r="7.0" fill="#000" stroke="#000" stroke-width="1"/>
<circle cx="441.32" cy="832.7" r="7.0" fill="#000" stroke="#000" stroke-width="1"/>
<circle cx="453" cy="845.4" r="7.0" fill="#000" stroke="#000" stroke-width="1"/>
<circle cx="464.69" cy="826" r="7.0" fill="#000" stroke="#000" stroke-width="1"/>
<circle cx="499.74" cy="815.9" r="7.0" fill="#000" stroke="#000" stroke-width="1"/>
<circle cx="523.11" cy="813.5" r="7.0" fill="#000" stroke="#000" stroke-width="1"/>
<circle cx="546.48" cy="801.2" r="7.0" fill="#000" stroke="#000" stroke-width="1"/>
<circle cx="581.54" cy="802.6" r="7.0" fill="#000" stroke="#000" stroke-width="1"/>
<circle cx="604.9" cy="812.1" r="7.0" fill="#000" stroke="#000" stroke-width="1"/>
<circle cx="628.28" cy="815.6" r="7.0" fill="#000" stroke="#000" stroke-width="1"/>
<circle cx="663.33" cy="815" r="7.0" fill="#000" stroke="#000" stroke-width="1"/>
<circle cx="686.7" cy="809.7" r="7.0" fill="#000" stroke="#000" stroke-width="1"/>
<circle cx="710.07" cy="800.3" r="7.0" fill="#000" stroke="#000" stroke-width="1"/>
<circle cx="745.12" cy="745.8" r="7.0" fill="#000" stroke="#000" stroke-width="1"/>
<circle cx="768.5" cy="733.2" r="7.0" fill="#000" stroke="#000" stroke-width="1"/>
<circle cx="791.87" cy="722.3" r="7.0" fill="#000" stroke="#000" stroke-width="1"/>
<circle cx="826.92" cy="724.5" r="7.0" fill="#000" stroke="#000" stroke-width="1"/>
<circle cx="850.29" cy="705.4" r="7.0" fill="#000" stroke="#000" stroke-width="1"/>
<circle cx="873.66" cy="720.6" r="7.0" fill="#000" stroke="#000" stroke-width="1"/>
<circle cx="908.72" cy="711.6" r="7.0" fill="#000" stroke="#000" stroke-width="1"/>
<circle cx="955.46" cy="746.5" r="7.0" fill="#000" stroke="#000" stroke-width="1"/>
<circle cx="990.51" cy="721.4" r="7.0" fill="#000" stroke="#000" stroke-width="1"/>
<circle cx="1037.25" cy="698.8" r="7.0" fill="#000" stroke="#000" stroke-width="1"/>
<circle cx="1072.31" cy="675.4" r="7.0" fill="#000" stroke="#000" stroke-width="1"/>
<circle cx="1119.05" cy="630.9" r="7.0" fill="#000" stroke="#000" stroke-width="1"/>
<polyline points="219.3,848.9 254.36,848.1 277.73,831.6 301.1,846.3 324.47,835.2 347.84,827.9 371.21,810.6 394.58,813.9 417.95,840 441.32,807.4 453,674 464.69,847.2 499.74,851.5 523.11,847.1 546.48,847.1 581.54,838.9 604.9,821.5 628.28,746.4 663.33,699 686.7,791.8 710.07,765.6 745.12,807.9 768.5,818.2 791.87,822.9 826.92,825.4 850.29,825.5 873.66,816.1 908.72,812.8 955.46,733 990.51,710 1037.25,725.6 1072.31,817.3 1119.05,815.3" fill="none" stroke="#000" stroke-width="1.6" stroke-linejoin="round"/>
<path d="M219.3 841.3L225.8 852.9L212.8 852.9Z" fill="#fff" stroke="#000" stroke-width="1.6" stroke-linejoin="round"/>
<path d="M254.36 840.5L260.86 852.1L247.86 852.1Z" fill="#fff" stroke="#000" stroke-width="1.6" stroke-linejoin="round"/>
<path d="M277.73 824L284.23 835.6L271.23 835.6Z" fill="#fff" stroke="#000" stroke-width="1.6" stroke-linejoin="round"/>
<path d="M301.1 838.7L307.6 850.3L294.6 850.3Z" fill="#fff" stroke="#000" stroke-width="1.6" stroke-linejoin="round"/>
<path d="M324.47 827.6L330.97 839.2L317.97 839.2Z" fill="#fff" stroke="#000" stroke-width="1.6" stroke-linejoin="round"/>
<path d="M347.84 820.3L354.34 831.9L341.34 831.9Z" fill="#fff" stroke="#000" stroke-width="1.6" stroke-linejoin="round"/>
<path d="M371.21 803L377.71 814.6L364.71 814.6Z" fill="#fff" stroke="#000" stroke-width="1.6" stroke-linejoin="round"/>
<path d="M394.58 806.3L401.08 817.9L388.08 817.9Z" fill="#fff" stroke="#000" stroke-width="1.6" stroke-linejoin="round"/>
<path d="M417.95 832.4L424.45 844L411.45 844Z" fill="#fff" stroke="#000" stroke-width="1.6" stroke-linejoin="round"/>
<path d="M441.32 799.8L447.82 811.4L434.82 811.4Z" fill="#fff" stroke="#000" stroke-width="1.6" stroke-linejoin="round"/>
<path d="M453 666.4L459.5 678L446.5 678Z" fill="#fff" stroke="#000" stroke-width="1.6" stroke-linejoin="round"/>
<path d="M464.69 839.6L471.19 851.2L458.19 851.2Z" fill="#fff" stroke="#000" stroke-width="1.6" stroke-linejoin="round"/>
<path d="M499.74 843.9L506.24 855.5L493.24 855.5Z" fill="#fff" stroke="#000" stroke-width="1.6" stroke-linejoin="round"/>
<path d="M523.11 839.5L529.61 851.1L516.61 851.1Z" fill="#fff" stroke="#000" stroke-width="1.6" stroke-linejoin="round"/>
<path d="M546.48 839.5L552.98 851.1L539.98 851.1Z" fill="#fff" stroke="#000" stroke-width="1.6" stroke-linejoin="round"/>
<path d="M581.54 831.3L588.04 842.9L575.04 842.9Z" fill="#fff" stroke="#000" stroke-width="1.6" stroke-linejoin="round"/>
<path d="M604.9 813.9L611.4 825.5L598.4 825.5Z" fill="#fff" stroke="#000" stroke-width="1.6" stroke-linejoin="round"/>
<path d="M628.28 738.8L634.78 750.4L621.78 750.4Z" fill="#fff" stroke="#000" stroke-width="1.6" stroke-linejoin="round"/>
<path d="M663.33 691.4L669.83 703L656.83 703Z" fill="#fff" stroke="#000" stroke-width="1.6" stroke-linejoin="round"/>
<path d="M686.7 784.2L693.2 795.8L680.2 795.8Z" fill="#fff" stroke="#000" stroke-width="1.6" stroke-linejoin="round"/>
<path d="M710.07 758L716.57 769.6L703.57 769.6Z" fill="#fff" stroke="#000" stroke-width="1.6" stroke-linejoin="round"/>
<path d="M745.12 800.3L751.62 811.9L738.62 811.9Z" fill="#fff" stroke="#000" stroke-width="1.6" stroke-linejoin="round"/>
<path d="M768.5 810.6L775 822.2L762 822.2Z" fill="#fff" stroke="#000" stroke-width="1.6" stroke-linejoin="round"/>
<path d="M791.87 815.3L798.37 826.9L785.37 826.9Z" fill="#fff" stroke="#000" stroke-width="1.6" stroke-linejoin="round"/>
<path d="M826.92 817.8L833.42 829.4L820.42 829.4Z" fill="#fff" stroke="#000" stroke-width="1.6" stroke-linejoin="round"/>
<path d="M850.29 817.9L856.79 829.5L843.79 829.5Z" fill="#fff" stroke="#000" stroke-width="1.6" stroke-linejoin="round"/>
<path d="M873.66 808.5L880.16 820.1L867.16 820.1Z" fill="#fff" stroke="#000" stroke-width="1.6" stroke-linejoin="round"/>
<path d="M908.72 805.2L915.22 816.8L902.22 816.8Z" fill="#fff" stroke="#000" stroke-width="1.6" stroke-linejoin="round"/>
<path d="M955.46 725.4L961.96 737L948.96 737Z" fill="#fff" stroke="#000" stroke-width="1.6" stroke-linejoin="round"/>
<path d="M990.51 702.4L997.01 714L984.01 714Z" fill="#fff" stroke="#000" stroke-width="1.6" stroke-linejoin="round"/>
<path d="M1037.25 718L1043.75 729.6L1030.75 729.6Z" fill="#fff" stroke="#000" stroke-width="1.6" stroke-linejoin="round"/>
<path d="M1072.31 809.7L1078.81 821.3L1065.81 821.3Z" fill="#fff" stroke="#000" stroke-width="1.6" stroke-linejoin="round"/>
<path d="M1119.05 807.7L1125.55 819.3L1112.55 819.3Z" fill="#fff" stroke="#000" stroke-width="1.6" stroke-linejoin="round"/>
<line x1="207" y1="617.5" x2="258.5" y2="617.5" stroke="#000" stroke-width="1.6" />
<circle cx="232.7" cy="617.5" r="7.0" fill="#000" stroke="#000" stroke-width="1"/>
<text x="271.3" y="625" font-size="21.3" >BCC</text>
<line x1="207" y1="644.5" x2="258.5" y2="644.5" stroke="#000" stroke-width="1.6" />
<path d="M232.7 636.9L239.2 648.5L226.2 648.5Z" fill="#fff" stroke="#000" stroke-width="1.6" stroke-linejoin="round"/>
<text x="271.3" y="652" font-size="21.3" >Ratio (VLP / <tspan font-style="italic">Col</tspan>)</text>
<text x="1185.6" y="628.65" font-size="27" font-weight="bold" >c</text>
<text x="57.5" y="723.5" font-size="21.3" text-anchor="middle" transform="rotate(-90 57.5 723.5)" >Bacterial cell counts</text>
<text x="83.2" y="721.3" font-size="21.3" text-anchor="middle" transform="rotate(-90 83.2 721.3)" >(BCC) ml<tspan font-size="13.2" dy="-8.8">-1</tspan></text>
<text x="1308.7" y="731.7" font-size="21.3" text-anchor="middle" transform="rotate(-90 1308.7 731.7)" >(Ratio)</text>
<text x="1332.3" y="731.9" font-size="21.3" text-anchor="middle" transform="rotate(-90 1332.3 731.9)" >Virus-like particle (VLP)</text>
<text x="1355.9" y="732.6" font-size="21.3" text-anchor="middle" transform="rotate(-90 1355.9 732.6)" >counts / <tspan font-style="italic">Colwellia</tspan> cell counts</text>
<line x1="196.3" y1="899.7" x2="196.3" y2="1154" stroke="#000" stroke-width="2" />
<line x1="196.3" y1="899.7" x2="1212.5" y2="899.7" stroke="#000" stroke-width="2" />
<line x1="196.3" y1="1154" x2="1212.5" y2="1154" stroke="#000" stroke-width="2" />
<line x1="1212.5" y1="899.7" x2="1212.5" y2="1154" stroke="#000" stroke-width="2" />
<line x1="187.3" y1="1154" x2="196.3" y2="1154" stroke="#000" stroke-width="2" />
<text x="126.3" y="1161.7" font-size="21.3" >0</text>
<line x1="187.3" y1="1090.42" x2="196.3" y2="1090.42" stroke="#000" stroke-width="2" />
<text x="173.5" y="1098.12" font-size="21.3" text-anchor="end" >2e+7</text>
<line x1="187.3" y1="1026.85" x2="196.3" y2="1026.85" stroke="#000" stroke-width="2" />
<text x="173.5" y="1034.55" font-size="21.3" text-anchor="end" >4e+7</text>
<line x1="187.3" y1="963.28" x2="196.3" y2="963.28" stroke="#000" stroke-width="2" />
<text x="173.5" y="970.98" font-size="21.3" text-anchor="end" >6e+7</text>
<line x1="187.3" y1="899.7" x2="196.3" y2="899.7" stroke="#000" stroke-width="2" />
<text x="173.5" y="907.4" font-size="21.3" text-anchor="end" >8e+7</text>
<line x1="1212.5" y1="1154" x2="1221" y2="1154" stroke="#000" stroke-width="2" />
<text x="1231.3" y="1161.7" font-size="21.3" >0</text>
<line x1="1212.5" y1="1103.14" x2="1221" y2="1103.14" stroke="#000" stroke-width="2" />
<text x="1231.3" y="1110.84" font-size="21.3" >2</text>
<line x1="1212.5" y1="1052.28" x2="1221" y2="1052.28" stroke="#000" stroke-width="2" />
<text x="1231.3" y="1059.98" font-size="21.3" >4</text>
<line x1="1212.5" y1="1001.42" x2="1221" y2="1001.42" stroke="#000" stroke-width="2" />
<text x="1231.3" y="1009.12" font-size="21.3" >6</text>
<line x1="1212.5" y1="950.56" x2="1221" y2="950.56" stroke="#000" stroke-width="2" />
<text x="1231.3" y="958.26" font-size="21.3" >8</text>
<line x1="1212.5" y1="899.7" x2="1221" y2="899.7" stroke="#000" stroke-width="2" />
<text x="1231.3" y="907.4" font-size="21.3" >10</text>
<line x1="219.3" y1="1154" x2="219.3" y2="1162.5" stroke="#000" stroke-width="2" />
<line x1="453" y1="1154" x2="453" y2="1162.5" stroke="#000" stroke-width="2" />
<line x1="686.7" y1="1154" x2="686.7" y2="1162.5" stroke="#000" stroke-width="2" />
<line x1="920.4" y1="1154" x2="920.4" y2="1162.5" stroke="#000" stroke-width="2" />
<line x1="1154.1" y1="1154" x2="1154.1" y2="1162.5" stroke="#000" stroke-width="2" />
<polyline points="219.3,1147.2 254.36,1142.4 266.04,1142.4 277.73,1142.4 289.41,1144.2 301.1,1143.1 312.78,1143.1 324.47,1142 336.15,1142 347.84,1141.3 359.52,1139.8 371.21,1138.7 382.89,1137.6 394.58,1136.8 406.26,1136.8 417.95,1135.7 429.63,1135 441.32,1132.1 453,1144.8 464.69,1125.4 499.74,1115.3 523.11,1112.9 546.48,1100.6 581.54,1102 604.9,1111.5 628.28,1115 663.33,1114.4 686.7,1109.1 710.07,1099.7 745.12,1045.2 768.5,1032.6 791.87,1021.7 826.92,1023.9 850.29,1004.8 873.66,1020 908.72,1011 955.46,1045.9 990.51,1020.8 1037.25,998.2 1072.31,974.8 1119.05,930.3" fill="none" stroke="#000" stroke-width="1.6" stroke-linejoin="round"/>
<circle cx="219.3" cy="1147.2" r="7.0" fill="#000" stroke="#000" stroke-width="1"/>
<circle cx="254.36" cy="1142.4" r="7.0" fill="#000" stroke="#000" stroke-width="1"/>
<circle cx="266.04" cy="1142.4" r="7.0" fill="#000" stroke="#000" stroke-width="1"/>
<circle cx="277.73" cy="1142.4" r="7.0" fill="#000" stroke="#000" stroke-width="1"/>
<circle cx="289.41" cy="1144.2" r="7.0" fill="#000" stroke="#000" stroke-width="1"/>
<circle cx="301.1" cy="1143.1" r="7.0" fill="#000" stroke="#000" stroke-width="1"/>
<circle cx="312.78" cy="1143.1" r="7.0" fill="#000" stroke="#000" stroke-width="1"/>
<circle cx="324.47" cy="1142" r="7.0" fill="#000" stroke="#000" stroke-width="1"/>
<circle cx="336.15" cy="1142" r="7.0" fill="#000" stroke="#000" stroke-width="1"/>
<circle cx="347.84" cy="1141.3" r="7.0" fill="#000" stroke="#000" stroke-width="1"/>
<circle cx="359.52" cy="1139.8" r="7.0" fill="#000" stroke="#000" stroke-width="1"/>
<circle cx="371.21" cy="1138.7" r="7.0" fill="#000" stroke="#000" stroke-width="1"/>
<circle cx="382.89" cy="1137.6" r="7.0" fill="#000" stroke="#000" stroke-width="1"/>
<circle cx="394.58" cy="1136.8" r="7.0" fill="#000" stroke="#000" stroke-width="1"/>
<circle cx="406.26" cy="1136.8" r="7.0" fill="#000" stroke="#000" stroke-width="1"/>
<circle cx="417.95" cy="1135.7" r="7.0" fill="#000" stroke="#000" stroke-width="1"/>
<circle cx="429.63" cy="1135" r="7.0" fill="#000" stroke="#000" stroke-width="1"/>
<circle cx="441.32" cy="1132.1" r="7.0" fill="#000" stroke="#000" stroke-width="1"/>
<circle cx="453" cy="1144.8" r="7.0" fill="#000" stroke="#000" stroke-width="1"/>
<circle cx="464.69" cy="1125.4" r="7.0" fill="#000" stroke="#000" stroke-width="1"/>
<circle cx="499.74" cy="1115.3" r="7.0" fill="#000" stroke="#000" stroke-width="1"/>
<circle cx="523.11" cy="1112.9" r="7.0" fill="#000" stroke="#000" stroke-width="1"/>
<circle cx="546.48" cy="1100.6" r="7.0" fill="#000" stroke="#000" stroke-width="1"/>
<circle cx="581.54" cy="1102" r="7.0" fill="#000" stroke="#000" stroke-width="1"/>
<circle cx="604.9" cy="1111.5" r="7.0" fill="#000" stroke="#000" stroke-width="1"/>
<circle cx="628.28" cy="1115" r="7.0" fill="#000" stroke="#000" stroke-width="1"/>
<circle cx="663.33" cy="1114.4" r="7.0" fill="#000" stroke="#000" stroke-width="1"/>
<circle cx="686.7" cy="1109.1" r="7.0" fill="#000" stroke="#000" stroke-width="1"/>
<circle cx="710.07" cy="1099.7" r="7.0" fill="#000" stroke="#000" stroke-width="1"/>
<circle cx="745.12" cy="1045.2" r="7.0" fill="#000" stroke="#000" stroke-width="1"/>
<circle cx="768.5" cy="1032.6" r="7.0" fill="#000" stroke="#000" stroke-width="1"/>
<circle cx="791.87" cy="1021.7" r="7.0" fill="#000" stroke="#000" stroke-width="1"/>
<circle cx="826.92" cy="1023.9" r="7.0" fill="#000" stroke="#000" stroke-width="1"/>
<circle cx="850.29" cy="1004.8" r="7.0" fill="#000" stroke="#000" stroke-width="1"/>
<circle cx="873.66" cy="1020" r="7.0" fill="#000" stroke="#000" stroke-width="1"/>
<circle cx="908.72" cy="1011" r="7.0" fill="#000" stroke="#000" stroke-width="1"/>
<circle cx="955.46" cy="1045.9" r="7.0" fill="#000" stroke="#000" stroke-width="1"/>
<circle cx="990.51" cy="1020.8" r="7.0" fill="#000" stroke="#000" stroke-width="1"/>
<circle cx="1037.25" cy="998.2" r="7.0" fill="#000" stroke="#000" stroke-width="1"/>
<circle cx="1072.31" cy="974.8" r="7.0" fill="#000" stroke="#000" stroke-width="1"/>
<circle cx="1119.05" cy="930.3" r="7.0" fill="#000" stroke="#000" stroke-width="1"/>
<polyline points="219.3,1102.1 254.36,1142.6 277.73,1146.3 301.1,1131.6 324.47,1121.6 347.84,1121.3 371.21,1128.6 394.58,1138.2 417.95,1141.5 441.32,1140 453,1052.3 464.69,1145.4 499.74,1127.4 523.11,1042.6 546.48,1087.6 581.54,1004.6 604.9,1052.9 628.28,1081.7 663.33,1089.7 686.7,1086.7 710.07,1100.9 745.12,1102.9 768.5,1068.5 791.87,1033.2 826.92,954.3 850.29,970 873.66,979.5 908.72,990.6 955.46,994.7 990.51,1019.4 1037.25,1031.7 1072.31,1102.9 1119.05,1112.3" fill="none" stroke="#000" stroke-width="1.6" stroke-linejoin="round"/>
<path d="M219.3 1094.5L225.8 1106.1L212.8 1106.1Z" fill="#fff" stroke="#000" stroke-width="1.6" stroke-linejoin="round"/>
<path d="M254.36 1135L260.86 1146.6L247.86 1146.6Z" fill="#fff" stroke="#000" stroke-width="1.6" stroke-linejoin="round"/>
<path d="M277.73 1138.7L284.23 1150.3L271.23 1150.3Z" fill="#fff" stroke="#000" stroke-width="1.6" stroke-linejoin="round"/>
<path d="M301.1 1124L307.6 1135.6L294.6 1135.6Z" fill="#fff" stroke="#000" stroke-width="1.6" stroke-linejoin="round"/>
<path d="M324.47 1114L330.97 1125.6L317.97 1125.6Z" fill="#fff" stroke="#000" stroke-width="1.6" stroke-linejoin="round"/>
<path d="M347.84 1113.7L354.34 1125.3L341.34 1125.3Z" fill="#fff" stroke="#000" stroke-width="1.6" stroke-linejoin="round"/>
<path d="M371.21 1121L377.71 1132.6L364.71 1132.6Z" fill="#fff" stroke="#000" stroke-width="1.6" stroke-linejoin="round"/>
<path d="M394.58 1130.6L401.08 1142.2L388.08 1142.2Z" fill="#fff" stroke="#000" stroke-width="1.6" stroke-linejoin="round"/>
<path d="M417.95 1133.9L424.45 1145.5L411.45 1145.5Z" fill="#fff" stroke="#000" stroke-width="1.6" stroke-linejoin="round"/>
<path d="M441.32 1132.4L447.82 1144L434.82 1144Z" fill="#fff" stroke="#000" stroke-width="1.6" stroke-linejoin="round"/>
<path d="M453 1044.7L459.5 1056.3L446.5 1056.3Z" fill="#fff" stroke="#000" stroke-width="1.6" stroke-linejoin="round"/>
<path d="M464.69 1137.8L471.19 1149.4L458.19 1149.4Z" fill="#fff" stroke="#000" stroke-width="1.6" stroke-linejoin="round"/>
<path d="M499.74 1119.8L506.24 1131.4L493.24 1131.4Z" fill="#fff" stroke="#000" stroke-width="1.6" stroke-linejoin="round"/>
<path d="M523.11 1035L529.61 1046.6L516.61 1046.6Z" fill="#fff" stroke="#000" stroke-width="1.6" stroke-linejoin="round"/>
<path d="M546.48 1080L552.98 1091.6L539.98 1091.6Z" fill="#fff" stroke="#000" stroke-width="1.6" stroke-linejoin="round"/>
<path d="M581.54 997L588.04 1008.6L575.04 1008.6Z" fill="#fff" stroke="#000" stroke-width="1.6" stroke-linejoin="round"/>
<path d="M604.9 1045.3L611.4 1056.9L598.4 1056.9Z" fill="#fff" stroke="#000" stroke-width="1.6" stroke-linejoin="round"/>
<path d="M628.28 1074.1L634.78 1085.7L621.78 1085.7Z" fill="#fff" stroke="#000" stroke-width="1.6" stroke-linejoin="round"/>
<path d="M663.33 1082.1L669.83 1093.7L656.83 1093.7Z" fill="#fff" stroke="#000" stroke-width="1.6" stroke-linejoin="round"/>
<path d="M686.7 1079.1L693.2 1090.7L680.2 1090.7Z" fill="#fff" stroke="#000" stroke-width="1.6" stroke-linejoin="round"/>
<path d="M710.07 1093.3L716.57 1104.9L703.57 1104.9Z" fill="#fff" stroke="#000" stroke-width="1.6" stroke-linejoin="round"/>
<path d="M745.12 1095.3L751.62 1106.9L738.62 1106.9Z" fill="#fff" stroke="#000" stroke-width="1.6" stroke-linejoin="round"/>
<path d="M768.5 1060.9L775 1072.5L762 1072.5Z" fill="#fff" stroke="#000" stroke-width="1.6" stroke-linejoin="round"/>
<path d="M791.87 1025.6L798.37 1037.2L785.37 1037.2Z" fill="#fff" stroke="#000" stroke-width="1.6" stroke-linejoin="round"/>
<path d="M826.92 946.7L833.42 958.3L820.42 958.3Z" fill="#fff" stroke="#000" stroke-width="1.6" stroke-linejoin="round"/>
<path d="M850.29 962.4L856.79 974L843.79 974Z" fill="#fff" stroke="#000" stroke-width="1.6" stroke-linejoin="round"/>
<path d="M873.66 971.9L880.16 983.5L867.16 983.5Z" fill="#fff" stroke="#000" stroke-width="1.6" stroke-linejoin="round"/>
<path d="M908.72 983L915.22 994.6L902.22 994.6Z" fill="#fff" stroke="#000" stroke-width="1.6" stroke-linejoin="round"/>
<path d="M955.46 987.1L961.96 998.7L948.96 998.7Z" fill="#fff" stroke="#000" stroke-width="1.6" stroke-linejoin="round"/>
<path d="M990.51 1011.8L997.01 1023.4L984.01 1023.4Z" fill="#fff" stroke="#000" stroke-width="1.6" stroke-linejoin="round"/>
<path d="M1037.25 1024.1L1043.75 1035.7L1030.75 1035.7Z" fill="#fff" stroke="#000" stroke-width="1.6" stroke-linejoin="round"/>
<path d="M1072.31 1095.3L1078.81 1106.9L1065.81 1106.9Z" fill="#fff" stroke="#000" stroke-width="1.6" stroke-linejoin="round"/>
<path d="M1119.05 1104.7L1125.55 1116.3L1112.55 1116.3Z" fill="#fff" stroke="#000" stroke-width="1.6" stroke-linejoin="round"/>
<line x1="202.7" y1="915.8" x2="254.8" y2="915.8" stroke="#000" stroke-width="1.6" />
<circle cx="228.7" cy="915.8" r="7.0" fill="#000" stroke="#000" stroke-width="1"/>
<text x="267.7" y="923.3" font-size="21.3" >BCC</text>
<line x1="202.7" y1="943.2" x2="254.8" y2="943.2" stroke="#000" stroke-width="1.6" />
<path d="M228.7 935.6L235.2 947.2L222.2 947.2Z" fill="#fff" stroke="#000" stroke-width="1.6" stroke-linejoin="round"/>
<text x="267.7" y="950.7" font-size="21.3" >Ratio (VLP / <tspan font-style="italic">Ros</tspan>)</text>
<text x="1185.8" y="933.65" font-size="27" font-weight="bold" >d</text>
<text x="57.5" y="1037.7" font-size="21.3" text-anchor="middle" transform="rotate(-90 57.5 1037.7)" >Bacterial cell counts</text>
<text x="83.3" y="1035.8" font-size="21.3" text-anchor="middle" transform="rotate(-90 83.3 1035.8)" >(BCC) ml<tspan font-size="13.2" dy="-8.8">-1</tspan></text>
<text x="1310" y="1028.6" font-size="21.3" text-anchor="middle" transform="rotate(-90 1310 1028.6)" >(Ratio)</text>
<text x="1333" y="1026" font-size="21.3" text-anchor="middle" transform="rotate(-90 1333 1026)" >Virus-like particle (VLP)</text>
<text x="1356.2" y="1032.4" font-size="21.3" text-anchor="middle" transform="rotate(-90 1356.2 1032.4)" >counts /<tspan font-style="italic">Roseovarius</tspan> cell counts</text>
<rect x="219.3" y="1201" width="899.7" height="255" fill="#000"/>
<polygon points="219.7,1383.2 254,1290.4 266.1,1268.4 277.8,1229.3 290.4,1311 301,1316.5 312.5,1269.5 324.6,1290.4 336.7,1316.5 347.8,1273.9 359.9,1267.3 371.4,1243 383.1,1257.3 394.6,1230.4 406.3,1237 418,1254.7 429.4,1236.4 442,1224.9 453.6,1268.2 465.3,1268.4 500.6,1384.8 523.6,1410.2 546.5,1386.6 581,1391.9 604.5,1328.9 628.1,1246.8 664,1232.1 686.9,1267.1 709.9,1243.6 745.2,1270 768.8,1313.6 792.9,1343.6 827.4,1377.8 849.5,1373.9 873.8,1354.5 907.8,1345.4 955.4,1278.4 991,1261.2 1037.3,1262.2 1072,1280 1118,1267.7 1118,1456 219.7,1456" fill="#c0c0c0"/>
<line x1="1118.9" y1="1201" x2="1118.9" y2="1456" stroke="#000" stroke-width="2" />
<line x1="196.3" y1="1201" x2="196.3" y2="1456" stroke="#000" stroke-width="2" />
<line x1="196.3" y1="1201" x2="1213.3" y2="1201" stroke="#000" stroke-width="2" />
<line x1="196.3" y1="1456" x2="1213.3" y2="1456" stroke="#000" stroke-width="2" />
<line x1="187.3" y1="1456" x2="196.3" y2="1456" stroke="#000" stroke-width="2" />
<text x="175.4" y="1463.7" font-size="21.3" text-anchor="end" >0</text>
<line x1="187.3" y1="1405" x2="196.3" y2="1405" stroke="#000" stroke-width="2" />
<text x="175.4" y="1412.7" font-size="21.3" text-anchor="end" >20</text>
<line x1="187.3" y1="1354" x2="196.3" y2="1354" stroke="#000" stroke-width="2" />
<text x="175.4" y="1361.7" font-size="21.3" text-anchor="end" >40</text>
<line x1="187.3" y1="1303" x2="196.3" y2="1303" stroke="#000" stroke-width="2" />
<text x="175.4" y="1310.7" font-size="21.3" text-anchor="end" >60</text>
<line x1="187.3" y1="1252" x2="196.3" y2="1252" stroke="#000" stroke-width="2" />
<text x="175.4" y="1259.7" font-size="21.3" text-anchor="end" >80</text>
<line x1="187.3" y1="1201" x2="196.3" y2="1201" stroke="#000" stroke-width="2" />
<text x="175.4" y="1208.7" font-size="21.3" text-anchor="end" >100</text>
<line x1="219.3" y1="1456" x2="219.3" y2="1464.5" stroke="#000" stroke-width="2" />
<line x1="453" y1="1456" x2="453" y2="1464.5" stroke="#000" stroke-width="2" />
<line x1="686.7" y1="1456" x2="686.7" y2="1464.5" stroke="#000" stroke-width="2" />
<line x1="920.4" y1="1456" x2="920.4" y2="1464.5" stroke="#000" stroke-width="2" />
<line x1="1154.1" y1="1456" x2="1154.1" y2="1464.5" stroke="#000" stroke-width="2" />
<text x="219.3" y="1496.4" font-size="21.3" text-anchor="middle" >0</text>
<text x="453" y="1496.4" font-size="21.3" text-anchor="middle" >20</text>
<text x="686.7" y="1496.4" font-size="21.3" text-anchor="middle" >40</text>
<text x="920.4" y="1496.4" font-size="21.3" text-anchor="middle" >60</text>
<text x="1154.1" y="1496.4" font-size="21.3" text-anchor="middle" >80</text>
<text x="684.6" y="1536.8" font-size="21.3" text-anchor="middle" >Time [days]</text>
<rect x="241.4" y="1387.6" width="51.6" height="17" fill="#000"/>
<rect x="242.2" y="1416.8" width="50" height="15.6" fill="#c0c0c0" stroke="#000" stroke-width="1.6"/>
<text x="306.3" y="1404.1" font-size="21.3" font-style="italic" >Colwellia</text>
<text x="306.3" y="1432.4" font-size="21.3" font-style="italic" >Roseovarius</text>
<text x="1186.8" y="1232.55" font-size="27" font-weight="bold" >e</text>
<text x="39.1" y="1330.9" font-size="21.3" text-anchor="middle" transform="rotate(-90 39.1 1330.9)" >Card-FISH free-living</text>
<text x="65.6" y="1329.6" font-size="21.3" text-anchor="middle" transform="rotate(-90 65.6 1329.6)" >(relative abundance</text>
<text x="92" y="1328.6" font-size="21.3" text-anchor="middle" transform="rotate(-90 92 1328.6)" >% of total)</text>
<line x1="191.2" y1="1568.3" x2="1212.5" y2="1568.3" stroke="#000" stroke-width="2" />
<line x1="191.2" y1="1568.3" x2="191.2" y2="2226.7" stroke="#000" stroke-width="2" />
<line x1="1212.5" y1="1568.3" x2="1212.5" y2="2226.7" stroke="#000" stroke-width="2" />
<line x1="191.2" y1="2226.7" x2="1212.5" y2="2226.7" stroke="#000" stroke-width="2" />
<line x1="191.2" y1="1680" x2="1212.5" y2="1680" stroke="#000" stroke-width="2" />
<line x1="219.3" y1="1680" x2="219.3" y2="1688.5" stroke="#000" stroke-width="2" />
<line x1="453" y1="1680" x2="453" y2="1688.5" stroke="#000" stroke-width="2" />
<line x1="686.7" y1="1680" x2="686.7" y2="1688.5" stroke="#000" stroke-width="2" />
<line x1="920.4" y1="1680" x2="920.4" y2="1688.5" stroke="#000" stroke-width="2" />
<line x1="1154.1" y1="1680" x2="1154.1" y2="1688.5" stroke="#000" stroke-width="2" />
<line x1="191.2" y1="1824" x2="1212.5" y2="1824" stroke="#000" stroke-width="2" />
<line x1="219.3" y1="1824" x2="219.3" y2="1832.5" stroke="#000" stroke-width="2" />
<line x1="453" y1="1824" x2="453" y2="1832.5" stroke="#000" stroke-width="2" />
<line x1="686.7" y1="1824" x2="686.7" y2="1832.5" stroke="#000" stroke-width="2" />
<line x1="920.4" y1="1824" x2="920.4" y2="1832.5" stroke="#000" stroke-width="2" />
<line x1="1154.1" y1="1824" x2="1154.1" y2="1832.5" stroke="#000" stroke-width="2" />
<line x1="191.2" y1="1967.6" x2="1212.5" y2="1967.6" stroke="#000" stroke-width="2" />
<line x1="219.3" y1="1967.6" x2="219.3" y2="1976.1" stroke="#000" stroke-width="2" />
<line x1="453" y1="1967.6" x2="453" y2="1976.1" stroke="#000" stroke-width="2" />
<line x1="686.7" y1="1967.6" x2="686.7" y2="1976.1" stroke="#000" stroke-width="2" />
<line x1="920.4" y1="1967.6" x2="920.4" y2="1976.1" stroke="#000" stroke-width="2" />
<line x1="1154.1" y1="1967.6" x2="1154.1" y2="1976.1" stroke="#000" stroke-width="2" />
<line x1="191.2" y1="2111.6" x2="1212.5" y2="2111.6" stroke="#000" stroke-width="2" />
<line x1="219.3" y1="2111.6" x2="219.3" y2="2120.1" stroke="#000" stroke-width="2" />
<line x1="453" y1="2111.6" x2="453" y2="2120.1" stroke="#000" stroke-width="2" />
<line x1="686.7" y1="2111.6" x2="686.7" y2="2120.1" stroke="#000" stroke-width="2" />
<line x1="920.4" y1="2111.6" x2="920.4" y2="2120.1" stroke="#000" stroke-width="2" />
<line x1="1154.1" y1="2111.6" x2="1154.1" y2="2120.1" stroke="#000" stroke-width="2" />
<text x="219.3" y="2151.5" font-size="21.3" text-anchor="middle" >0</text>
<text x="453" y="2151.5" font-size="21.3" text-anchor="middle" >20</text>
<text x="686.7" y="2151.5" font-size="21.3" text-anchor="middle" >40</text>
<text x="920.4" y="2151.5" font-size="21.3" text-anchor="middle" >60</text>
<text x="1154.1" y="2151.5" font-size="21.3" text-anchor="middle" >80</text>
<text x="684.6" y="2186.8" font-size="21.3" text-anchor="middle" >Time [days]</text>
<text x="1186.6" y="1598.9" font-size="27" font-weight="bold" >f</text>
<text x="322" y="1616" font-size="21.3" text-anchor="middle" >Slight growth of</text>
<text x="325.7" y="1639.4" font-size="21.3" text-anchor="middle" font-style="italic" >Roseovarius</text>
<line x1="220.4" y1="1647.5" x2="429.7" y2="1647.5" stroke="#000" stroke-width="2.9" stroke-linecap="round" stroke-dasharray="3.1 5.4" />
<line x1="218.9" y1="1639.3" x2="218.9" y2="1655.7" stroke="#000" stroke-width="2.9" stroke-linecap="round"/>
<line x1="431.2" y1="1639.3" x2="431.2" y2="1655.7" stroke="#000" stroke-width="2.9" stroke-linecap="round"/>
<line x1="632.5" y1="1647.5" x2="744.6" y2="1647.5" stroke="#000" stroke-width="2.9" stroke-linecap="round" stroke-dasharray="3.1 5.4" />
<line x1="631" y1="1639.3" x2="631" y2="1655.7" stroke="#000" stroke-width="2.9" stroke-linecap="round"/>
<line x1="746.1" y1="1639.3" x2="746.1" y2="1655.7" stroke="#000" stroke-width="2.9" stroke-linecap="round"/>
<line x1="936" y1="1647.5" x2="1047.7" y2="1647.5" stroke="#000" stroke-width="2.9" stroke-linecap="round" stroke-dasharray="3.1 5.4" />
<line x1="934.5" y1="1639.3" x2="934.5" y2="1655.7" stroke="#000" stroke-width="2.9" stroke-linecap="round"/>
<line x1="1049.2" y1="1639.3" x2="1049.2" y2="1655.7" stroke="#000" stroke-width="2.9" stroke-linecap="round"/>
<text x="447" y="1717.4" font-size="21.3" text-anchor="middle" >Prophage</text>
<text x="450" y="1737.6" font-size="21.3" text-anchor="middle" >induction</text>
<line x1="432.9" y1="1758" x2="461.9" y2="1758" stroke="#000" stroke-width="2.9" stroke-linecap="round" stroke-dasharray="3.1 5.4" />
<line x1="431.4" y1="1749.8" x2="431.4" y2="1766.2" stroke="#000" stroke-width="2.9" stroke-linecap="round"/>
<line x1="463.4" y1="1749.8" x2="463.4" y2="1766.2" stroke="#000" stroke-width="2.9" stroke-linecap="round"/>
<line x1="621.5" y1="1758" x2="678" y2="1758" stroke="#000" stroke-width="2.9" stroke-linecap="round" stroke-dasharray="3.1 5.4" />
<line x1="620" y1="1749.8" x2="620" y2="1766.2" stroke="#000" stroke-width="2.9" stroke-linecap="round"/>
<line x1="679.5" y1="1749.8" x2="679.5" y2="1766.2" stroke="#000" stroke-width="2.9" stroke-linecap="round"/>
<line x1="941.9" y1="1758" x2="1044.7" y2="1758" stroke="#000" stroke-width="2.9" stroke-linecap="round" stroke-dasharray="3.1 5.4" />
<line x1="940.4" y1="1749.8" x2="940.4" y2="1766.2" stroke="#000" stroke-width="2.9" stroke-linecap="round"/>
<line x1="1046.2" y1="1749.8" x2="1046.2" y2="1766.2" stroke="#000" stroke-width="2.9" stroke-linecap="round"/>
<text x="449.1" y="1790.6" font-size="21.3" >Potential release of vitamin B<tspan font-size="14" dy="5">12</tspan></text>
<line x1="454.1" y1="1806.3" x2="603.6" y2="1806.3" stroke="#000" stroke-width="2.9" stroke-linecap="round" stroke-dasharray="3.1 5.4" />
<line x1="452.6" y1="1798.1" x2="452.6" y2="1814.5" stroke="#000" stroke-width="2.9" stroke-linecap="round"/>
<line x1="677.2" y1="1806.3" x2="826.1" y2="1806.3" stroke="#000" stroke-width="2.9" stroke-linecap="round" stroke-dasharray="3.1 5.4" />
<line x1="675.7" y1="1798.1" x2="675.7" y2="1814.5" stroke="#000" stroke-width="2.9" stroke-linecap="round"/>
<text x="622.1" y="1872.4" font-size="21.3" text-anchor="middle" >Increased growth</text>
<text x="625.1" y="1892.6" font-size="21.3" text-anchor="middle" >of diatom</text>
<line x1="519.9" y1="1902.5" x2="729.6" y2="1902.5" stroke="#000" stroke-width="2.9" stroke-linecap="round" stroke-dasharray="3.1 5.4" />
<line x1="518.4" y1="1894.3" x2="518.4" y2="1910.7" stroke="#000" stroke-width="2.9" stroke-linecap="round"/>
<line x1="731.1" y1="1894.3" x2="731.1" y2="1910.7" stroke="#000" stroke-width="2.9" stroke-linecap="round"/>
<line x1="835.6" y1="1902.5" x2="984.9" y2="1902.5" stroke="#000" stroke-width="2.9" stroke-linecap="round" stroke-dasharray="3.1 5.4" />
<line x1="834.1" y1="1894.3" x2="834.1" y2="1910.7" stroke="#000" stroke-width="2.9" stroke-linecap="round"/>
<line x1="986.4" y1="1894.3" x2="986.4" y2="1910.7" stroke="#000" stroke-width="2.9" stroke-linecap="round"/>
<text x="519.4" y="2041.2" font-size="21.3" text-anchor="middle" >Increased growth of</text>
<text x="522" y="2061.8" font-size="21.3" text-anchor="middle" font-style="italic" >Colwellia</text>
<line x1="452.4" y1="2082.3" x2="585" y2="2082.3" stroke="#000" stroke-width="2.9" stroke-linecap="round" stroke-dasharray="3.1 5.4" />
<line x1="450.9" y1="2074.1" x2="450.9" y2="2090.5" stroke="#000" stroke-width="2.9" stroke-linecap="round"/>
<line x1="586.5" y1="2074.1" x2="586.5" y2="2090.5" stroke="#000" stroke-width="2.9" stroke-linecap="round"/>
<line x1="749.1" y1="2082.3" x2="915" y2="2082.3" stroke="#000" stroke-width="2.9" stroke-linecap="round" stroke-dasharray="3.1 5.4" />
<line x1="747.6" y1="2074.1" x2="747.6" y2="2090.5" stroke="#000" stroke-width="2.9" stroke-linecap="round"/>
<line x1="916.5" y1="2074.1" x2="916.5" y2="2090.5" stroke="#000" stroke-width="2.9" stroke-linecap="round"/>
<line x1="191.2" y1="2241" x2="1212.5" y2="2241" stroke="#000" stroke-width="2" />
<line x1="191.2" y1="2241" x2="191.2" y2="2507.6" stroke="#000" stroke-width="2" />
<line x1="1212.5" y1="2241" x2="1212.5" y2="2507.6" stroke="#000" stroke-width="2" />
<line x1="191.2" y1="2507.6" x2="1212.5" y2="2507.6" stroke="#000" stroke-width="2" />
<line x1="180.2" y1="2507.6" x2="191.2" y2="2507.6" stroke="#000" stroke-width="2" />
<text x="163.2" y="2515.3" font-size="21.3" text-anchor="end" >0</text>
<line x1="180.2" y1="2454.28" x2="191.2" y2="2454.28" stroke="#000" stroke-width="2" />
<text x="163.2" y="2461.98" font-size="21.3" text-anchor="end" >1000</text>
<line x1="180.2" y1="2400.96" x2="191.2" y2="2400.96" stroke="#000" stroke-width="2" />
<text x="163.2" y="2408.66" font-size="21.3" text-anchor="end" >2000</text>
<line x1="180.2" y1="2347.64" x2="191.2" y2="2347.64" stroke="#000" stroke-width="2" />
<text x="163.2" y="2355.34" font-size="21.3" text-anchor="end" >3000</text>
<line x1="180.2" y1="2294.32" x2="191.2" y2="2294.32" stroke="#000" stroke-width="2" />
<text x="163.2" y="2302.02" font-size="21.3" text-anchor="end" >4000</text>
<line x1="180.2" y1="2241" x2="191.2" y2="2241" stroke="#000" stroke-width="2" />
<text x="163.2" y="2248.7" font-size="21.3" text-anchor="end" >5000</text>
<rect x="328.1" y="2282.06" width="67.5" height="225.54" fill="#c0c0c0" stroke="#000" stroke-width="1.6"/>
<rect x="497.1" y="2288.99" width="68.5" height="218.61" fill="#c0c0c0" stroke="#000" stroke-width="1.6"/>
<rect x="667.2" y="2498.27" width="68.9" height="9.33" fill="#c0c0c0" stroke="#000" stroke-width="1.6"/>
<rect x="836.8" y="2502" width="68.8" height="5.6" fill="#c0c0c0" stroke="#000" stroke-width="1.6"/>
<rect x="1007.4" y="2502" width="67.8" height="5.6" fill="#c0c0c0" stroke="#000" stroke-width="1.6"/>
<line x1="361.6" y1="2282.8" x2="361.6" y2="2257.1" stroke="#000" stroke-width="1.6" />
<line x1="350.3" y1="2257.1" x2="371.9" y2="2257.1" stroke="#000" stroke-width="1.6" />
<line x1="531.6" y1="2289.5" x2="531.6" y2="2276.7" stroke="#000" stroke-width="1.6" />
<line x1="520.3" y1="2276.7" x2="543.4" y2="2276.7" stroke="#000" stroke-width="1.6" />
<line x1="701.1" y1="2498.2" x2="701.1" y2="2496.5" stroke="#000" stroke-width="1.6" />
<line x1="693" y1="2496.5" x2="709" y2="2496.5" stroke="#000" stroke-width="1.6" />
<circle cx="361.6" cy="2249.4" r="4.3" fill="#000"/>
<circle cx="361.6" cy="2286.4" r="4.3" fill="#000"/>
<circle cx="361.6" cy="2311.2" r="4.3" fill="#000"/>
<circle cx="531.6" cy="2276.7" r="4.3" fill="#000"/>
<circle cx="531.6" cy="2282.8" r="4.3" fill="#000"/>
<circle cx="531.6" cy="2306" r="4.3" fill="#000"/>
<circle cx="701.1" cy="2497.5" r="4.3" fill="#000"/>
<circle cx="871.2" cy="2501.7" r="4.3" fill="#000"/>
<circle cx="1041.3" cy="2501.7" r="4.3" fill="#000"/>
<text x="1182.1" y="2267.6" font-size="27" font-weight="bold" >g</text>
<text x="60.9" y="2376.2" font-size="21.3" text-anchor="middle" transform="rotate(-90 60.9 2376.2)" >Maximum relative</text>
<text x="88.1" y="2373.5" font-size="21.3" text-anchor="middle" transform="rotate(-90 88.1 2373.5)" >fluorescence unit</text>
<text x="269.2" y="2401.4" font-size="18.2" text-anchor="middle" transform="rotate(-90 269.2 2401.4)" >Consortium</text>
<text x="289.7" y="2404.5" font-size="19.2" text-anchor="middle" transform="rotate(-90 289.7 2404.5)" >(<tspan font-style="italic">T. pseudonana</tspan>,</text>
<text x="307" y="2398.5" font-size="18.2" text-anchor="middle" transform="rotate(-90 307 2398.5)" ><tspan font-style="italic">Roseovarius</tspan> &amp; <tspan font-style="italic">Colwellia</tspan>)</text>
<text x="456.3" y="2435.7" font-size="18.2" text-anchor="middle" transform="rotate(-90 456.3 2435.7)" ><tspan font-style="italic">T. pseudonana</tspan></text>
<text x="476.5" y="2439.8" font-size="19.2" text-anchor="middle" transform="rotate(-90 476.5 2439.8)" >+ B<tspan font-size="13" dy="4">12</tspan><tspan dy="-4"> (100 pM)</tspan></text>
<text x="627.6" y="2426.8" font-size="18.2" text-anchor="middle" transform="rotate(-90 627.6 2426.8)" ><tspan font-style="italic">T. pseudonana</tspan></text>
<text x="646.2" y="2430.8" font-size="19.2" text-anchor="middle" transform="rotate(-90 646.2 2430.8)" >(negative control)</text>
<text x="802.9" y="2428.4" font-size="18.2" text-anchor="middle" transform="rotate(-90 802.9 2428.4)" ><tspan font-style="italic">T. pseudonana</tspan> &amp;</text>
<text x="821.6" y="2424" font-size="18.2" text-anchor="middle" transform="rotate(-90 821.6 2424)" ><tspan font-style="italic">Roseovarius</tspan></text>
<text x="973.5" y="2428.4" font-size="18.2" text-anchor="middle" transform="rotate(-90 973.5 2428.4)" ><tspan font-style="italic">T. pseudonana</tspan> &amp;</text>
<text x="992" y="2423.5" font-size="18.2" text-anchor="middle" transform="rotate(-90 992 2423.5)" ><tspan font-style="italic">Colwellia</tspan></text>
<defs>
<radialGradient id="dg" cx="50%" cy="50%" r="60%"><stop offset="0" stop-color="#08d608"/><stop offset="0.6" stop-color="#17b214"/><stop offset="1" stop-color="#1e9010"/></radialGradient>
<clipPath id="c2clip"><ellipse cx="75.2" cy="1778.1" rx="59.5" ry="41.8" transform="rotate(34 75.2 1778.1)"/></clipPath>
<path id="dcell" d="M-33,-23.5 C-15,-19.5 15,-27 33,-23.5 Q40,-22.5 39.5,-16 C38,-5 40,5 38.5,16 Q39,23.5 32.5,23.5 C15,19.5 -15,27 -33,23.5 Q-40,22.5 -39.5,16 C-38,5 -40,-5 -38.5,-16 Q-39,-23.5 -33,-23.5 Z"/>
<path id="dinner" d="M-25,-14.5 C-10,-10.5 10,-17.5 25,-14.5 Q31,-13.5 30.5,-8 C29.5,-3 31,3 30,8 Q30,14.5 24,14.5 C10,10.5 -10,17.5 -25,14.5 Q-31,13.5 -30.5,8 C-29.5,3 -31,-3 -30,-8 Q-30.5,-14.5 -25,-14.5 Z"/>
</defs>
<ellipse cx="76.5" cy="1633.2" rx="59.5" ry="41.8" transform="rotate(34 76.5 1633.2)" fill="#808080" stroke="#000" stroke-width="2.2"/>
<path d="M127,1664.5 L127.8,1664.92 L128.6,1665.23 L129.42,1665.39 L130.26,1665.4 L131.12,1665.23 L132,1664.89 L132.92,1664.41 L133.83,1663.96 L134.74,1663.6 L135.65,1663.31 L136.54,1663.13 L137.41,1663.06 L138.27,1663.11 L139.1,1663.29 L139.91,1663.58 L140.69,1664 L141.44,1664.52 L142.17,1665.13 L142.87,1665.82 L143.56,1666.56 L144.23,1667.33 L144.89,1668.12 L145.54,1668.89 L146.19,1669.62 L146.86,1670.3 L147.53,1670.9 L148.23,1671.41 L148.95,1671.82 L149.71,1672.12 L150.5,1672.32 L151.32,1672.4 L152.18,1672.39 L153.07,1672.28 L154,1672.11 L154.95,1671.88 L155.92,1671.61 L156.9,1671.33 L157.89,1671.06 L158.88,1670.82 L159.86,1670.64 L160.81,1670.53 L161.74,1670.52 L162.63,1670.6 L163.47,1670.8 L164.27,1671.12 L165.02,1671.56 L165.72,1672.11 L166.36,1672.77 L166.96,1673.52 L167.53,1674.34 L168.05,1675.22 L168.56,1676.14 L169.05,1677.06 L169.54,1677.98 L170.03,1678.86 L170.55,1679.68 L171.11,1680.44 L171.7,1681.1 L172.35,1681.67 L173.05,1682.13" fill="none" stroke="#000" stroke-width="1.75" stroke-linecap="round" stroke-linejoin="round"/>
<path d="M127,1664.5 L127.87,1664.25 L128.72,1664.13 L129.57,1664.16 L130.39,1664.36 L131.18,1664.74 L131.95,1665.31 L132.68,1666.03 L133.41,1666.73 L134.14,1667.35 L134.88,1667.91 L135.63,1668.37 L136.39,1668.74 L137.17,1668.99 L137.96,1669.13 L138.78,1669.17 L139.62,1669.09 L140.49,1668.92 L141.38,1668.67 L142.29,1668.35 L143.22,1668 L144.16,1667.62 L145.11,1667.24 L146.06,1666.88 L147.01,1666.58 L147.94,1666.34 L148.86,1666.19 L149.76,1666.14 L150.62,1666.2 L151.46,1666.38 L152.25,1666.68 L153.01,1667.1 L153.73,1667.64 L154.42,1668.27 L155.07,1668.98 L155.69,1669.76 L156.28,1670.59 L156.86,1671.44 L157.43,1672.3 L158,1673.13 L158.59,1673.92 L159.18,1674.64 L159.81,1675.28 L160.47,1675.84 L161.17,1676.28 L161.91,1676.63 L162.71,1676.86 L163.55,1676.99 L164.44,1677.03 L165.37,1676.99 L166.34,1676.88 L167.33,1676.73 L168.35,1676.55 L169.38,1676.38 L170.41,1676.22 L171.43,1676.12 L172.42,1676.07 L173.38,1676.11 L174.29,1676.26 L175.15,1676.51 L175.95,1676.87" fill="none" stroke="#000" stroke-width="1.75" stroke-linecap="round" stroke-linejoin="round"/>
<path d="M127,1665.5 L127.28,1666.27 L127.53,1667.09 L127.76,1667.93 L128.01,1668.77 L128.31,1669.57 L128.7,1670.31 L129.2,1670.94 L129.86,1671.41 L130.75,1671.64 L131.68,1671.81 L132.64,1671.94 L133.61,1672.04 L134.58,1672.13 L135.53,1672.22 L136.44,1672.34 L137.31,1672.5 L138.12,1672.73 L138.86,1673.02 L139.54,1673.41 L140.16,1673.88 L140.7,1674.46 L141.19,1675.12 L141.63,1675.87 L142.03,1676.7 L142.4,1677.59 L142.77,1678.52 L143.14,1679.47 L143.53,1680.42 L143.96,1681.34 L144.44,1682.21 L144.97,1683 L145.57,1683.7 L146.25,1684.28 L147,1684.74 L147.83,1685.08 L148.72,1685.28 L149.68,1685.36 L150.69,1685.34 L151.73,1685.22 L152.8,1685.04 L153.88,1684.82 L154.95,1684.6 L156,1684.41 L157.02,1684.28 L158,1684.23 L158.93,1684.3 L159.81,1684.5 L160.64,1684.84 L161.42,1685.32 L162.16,1685.95 L162.86,1686.7 L163.54,1687.55 L164.22,1688.47 L164.89,1689.43 L165.59,1690.38 L166.32,1691.29 L167.09,1692.1 L167.91,1692.79 L168.79,1693.33 L169.73,1693.69" fill="none" stroke="#000" stroke-width="1.75" stroke-linecap="round" stroke-linejoin="round"/>
<path d="M127,1665.5 L127.72,1665.89 L128.5,1666.22 L129.31,1666.52 L130.11,1666.81 L130.87,1667.13 L131.57,1667.5 L132.17,1667.97 L132.62,1668.59 L132.86,1669.43 L133.07,1670.32 L133.27,1671.25 L133.47,1672.2 L133.69,1673.15 L133.94,1674.08 L134.25,1674.97 L134.61,1675.81 L135.05,1676.58 L135.57,1677.27 L136.16,1677.85 L136.84,1678.34 L137.61,1678.72 L138.44,1678.99 L139.34,1679.17 L140.29,1679.26 L141.28,1679.28 L142.3,1679.24 L143.33,1679.18 L144.35,1679.11 L145.35,1679.05 L146.31,1679.04 L147.24,1679.09 L148.11,1679.23 L148.92,1679.47 L149.67,1679.82 L150.36,1680.29 L151,1680.88 L151.59,1681.58 L152.14,1682.38 L152.68,1683.25 L153.2,1684.18 L153.73,1685.14 L154.28,1686.09 L154.87,1687 L155.5,1687.84 L156.19,1688.58 L156.94,1689.2 L157.75,1689.68 L158.64,1690 L159.59,1690.17 L160.59,1690.19 L161.65,1690.07 L162.74,1689.84 L163.85,1689.53 L164.98,1689.18 L166.1,1688.82 L167.2,1688.5 L168.28,1688.25 L169.32,1688.12 L170.31,1688.13 L171.27,1688.31" fill="none" stroke="#000" stroke-width="1.75" stroke-linecap="round" stroke-linejoin="round"/>
<ellipse cx="75.2" cy="1778.1" rx="59.5" ry="41.8" transform="rotate(34 75.2 1778.1)" fill="#808080"/>
<g clip-path="url(#c2clip)"><path d="M35.3,1766.2 L41.2,1772.7 L47.4,1762.7 L50.3,1769.1 L63.3,1773.8 L54,1779 L56.2,1780.3 L86.8,1783.5 L71.5,1788.8 L80.9,1793.6 L71.8,1798.6 L96.8,1805.6 L83.3,1810.9 L84.5,1830 L20,1830 L20,1797 L35.6,1797.4 L32.7,1786.2 L40,1787.1 Z" fill="#6b6b6b" stroke="#000" stroke-width="0.9" stroke-linejoin="miter"/></g>
<ellipse cx="75.2" cy="1778.1" rx="59.5" ry="41.8" transform="rotate(34 75.2 1778.1)" fill="none" stroke="#000" stroke-width="2.2"/>
<path d="M127,1810 L127.8,1810.42 L128.6,1810.73 L129.42,1810.89 L130.26,1810.9 L131.12,1810.73 L132,1810.39 L132.92,1809.91 L133.83,1809.46 L134.74,1809.1 L135.65,1808.81 L136.54,1808.63 L137.41,1808.56 L138.27,1808.61 L139.1,1808.79 L139.91,1809.08 L140.69,1809.5 L141.44,1810.02 L142.17,1810.63 L142.87,1811.32 L143.56,1812.06 L144.23,1812.83 L144.89,1813.62 L145.54,1814.39 L146.19,1815.12 L146.86,1815.8 L147.53,1816.4 L148.23,1816.91 L148.95,1817.32 L149.71,1817.62 L150.5,1817.82 L151.32,1817.9 L152.18,1817.89 L153.07,1817.78 L154,1817.61 L154.95,1817.38 L155.92,1817.11 L156.9,1816.83 L157.89,1816.56 L158.88,1816.32 L159.86,1816.14 L160.81,1816.03 L161.74,1816.02 L162.63,1816.1 L163.47,1816.3 L164.27,1816.62 L165.02,1817.06 L165.72,1817.61 L166.36,1818.27 L166.96,1819.02 L167.53,1819.84 L168.05,1820.72 L168.56,1821.64 L169.05,1822.56 L169.54,1823.48 L170.03,1824.36 L170.55,1825.18 L171.11,1825.94 L171.7,1826.6 L172.35,1827.17 L173.05,1827.63" fill="none" stroke="#000" stroke-width="1.75" stroke-linecap="round" stroke-linejoin="round"/>
<path d="M127,1810 L127.87,1809.75 L128.72,1809.63 L129.57,1809.66 L130.39,1809.86 L131.18,1810.24 L131.95,1810.81 L132.68,1811.53 L133.41,1812.23 L134.14,1812.85 L134.88,1813.41 L135.63,1813.87 L136.39,1814.24 L137.17,1814.49 L137.96,1814.63 L138.78,1814.67 L139.62,1814.59 L140.49,1814.42 L141.38,1814.17 L142.29,1813.85 L143.22,1813.5 L144.16,1813.12 L145.11,1812.74 L146.06,1812.38 L147.01,1812.08 L147.94,1811.84 L148.86,1811.69 L149.76,1811.64 L150.62,1811.7 L151.46,1811.88 L152.25,1812.18 L153.01,1812.6 L153.73,1813.14 L154.42,1813.77 L155.07,1814.48 L155.69,1815.26 L156.28,1816.09 L156.86,1816.94 L157.43,1817.8 L158,1818.63 L158.59,1819.42 L159.18,1820.14 L159.81,1820.78 L160.47,1821.34 L161.17,1821.78 L161.91,1822.13 L162.71,1822.36 L163.55,1822.49 L164.44,1822.53 L165.37,1822.49 L166.34,1822.38 L167.33,1822.23 L168.35,1822.05 L169.38,1821.88 L170.41,1821.72 L171.43,1821.62 L172.42,1821.57 L173.38,1821.61 L174.29,1821.76 L175.15,1822.01 L175.95,1822.37" fill="none" stroke="#000" stroke-width="1.75" stroke-linecap="round" stroke-linejoin="round"/>
<path d="M127,1811 L127.28,1811.77 L127.53,1812.59 L127.76,1813.43 L128.01,1814.27 L128.31,1815.07 L128.7,1815.81 L129.2,1816.44 L129.86,1816.91 L130.75,1817.14 L131.68,1817.31 L132.64,1817.44 L133.61,1817.54 L134.58,1817.63 L135.53,1817.72 L136.44,1817.84 L137.31,1818 L138.12,1818.23 L138.86,1818.52 L139.54,1818.91 L140.16,1819.38 L140.7,1819.96 L141.19,1820.62 L141.63,1821.37 L142.03,1822.2 L142.4,1823.09 L142.77,1824.02 L143.14,1824.97 L143.53,1825.92 L143.96,1826.84 L144.44,1827.71 L144.97,1828.5 L145.57,1829.2 L146.25,1829.78 L147,1830.24 L147.83,1830.58 L148.72,1830.78 L149.68,1830.86 L150.69,1830.84 L151.73,1830.72 L152.8,1830.54 L153.88,1830.32 L154.95,1830.1 L156,1829.91 L157.02,1829.78 L158,1829.73 L158.93,1829.8 L159.81,1830 L160.64,1830.34 L161.42,1830.82 L162.16,1831.45 L162.86,1832.2 L163.54,1833.05 L164.22,1833.97 L164.89,1834.93 L165.59,1835.88 L166.32,1836.79 L167.09,1837.6 L167.91,1838.29 L168.79,1838.83 L169.73,1839.19" fill="none" stroke="#000" stroke-width="1.75" stroke-linecap="round" stroke-linejoin="round"/>
<path d="M127,1811 L127.72,1811.39 L128.5,1811.72 L129.31,1812.02 L130.11,1812.31 L130.87,1812.63 L131.57,1813 L132.17,1813.47 L132.62,1814.09 L132.86,1814.93 L133.07,1815.82 L133.27,1816.75 L133.47,1817.7 L133.69,1818.65 L133.94,1819.58 L134.25,1820.47 L134.61,1821.31 L135.05,1822.08 L135.57,1822.77 L136.16,1823.35 L136.84,1823.84 L137.61,1824.22 L138.44,1824.49 L139.34,1824.67 L140.29,1824.76 L141.28,1824.78 L142.3,1824.74 L143.33,1824.68 L144.35,1824.61 L145.35,1824.55 L146.31,1824.54 L147.24,1824.59 L148.11,1824.73 L148.92,1824.97 L149.67,1825.32 L150.36,1825.79 L151,1826.38 L151.59,1827.08 L152.14,1827.88 L152.68,1828.75 L153.2,1829.68 L153.73,1830.64 L154.28,1831.59 L154.87,1832.5 L155.5,1833.34 L156.19,1834.08 L156.94,1834.7 L157.75,1835.18 L158.64,1835.5 L159.59,1835.67 L160.59,1835.69 L161.65,1835.57 L162.74,1835.34 L163.85,1835.03 L164.98,1834.68 L166.1,1834.32 L167.2,1834 L168.28,1833.75 L169.32,1833.62 L170.31,1833.63 L171.27,1833.81" fill="none" stroke="#000" stroke-width="1.75" stroke-linecap="round" stroke-linejoin="round"/>
<g stroke="#000" stroke-width="1.05" fill="none" stroke-linecap="round" stroke-linejoin="round">
<path d="M52,1788.5 L46,1791 L37,1797.5 M52.5,1790 L44,1794 L38.5,1799.5 M60,1789 L65,1794 L70.6,1804.9 M60.5,1791 L66,1797 L69,1804"/>
<path d="M57,1816.5 L47.1,1817 M68.5,1826.5 L70,1834 L67.7,1844.6 M70,1826 L73,1834 L73.6,1844.3 M66,1827 L67,1832"/>
<path d="M21,1833 L14,1833.5 L3.3,1839.5 M21.5,1835 L15,1836.5 L4.4,1845.4 M29.5,1834 L35,1836 L43.4,1848.3 M29,1836 L33.5,1839.5 L39.7,1852.3"/>
</g>
<g stroke="#000" stroke-width="1" fill="#d0d0d0" stroke-linejoin="round">
<path d="M53.7,1773.5 L58.5,1771.6 L63.3,1773.8 L60,1778.8 L55,1779 Z"/>
<path d="M56.3,1781.8 L61,1782.2 L59.8,1786 L59.8,1792 L61.8,1794.5 L59.5,1797 L54,1796.5 L53,1793.8 L55.8,1791.5 L56.8,1786 Z"/>
<path d="M74,1808.5 L79,1806.8 L84,1809.5 L84.5,1821 L78.5,1821.5 L74.5,1817 Z"/>
<path d="M76,1817.5 L72.5,1819.5 L66,1823.3 L62.5,1823.5 L60.5,1827 L63.5,1830.5 L66.5,1829 L68,1826.5 L74,1822.5 L77.5,1822 Z"/>
<path d="M22.8,1814.5 L30.2,1812.2 L35.3,1815.9 L34.6,1824 L29.4,1826.6 L22.1,1824 Z"/>
<path d="M24.3,1827.5 L30.2,1827.8 L28.8,1831 L28.4,1838 L29.8,1840 L28.5,1843.8 L21.5,1844 L19.8,1841 L23.3,1838.5 L24.5,1831 Z"/>
</g>
<g stroke="#000" stroke-width="0.7" fill="none">
<path d="M22.8,1814.5 L29.4,1826.6 M30.2,1812.2 L26,1825 M35.3,1815.9 L22.1,1824 M30.2,1812.2 L34.6,1824 M26.5,1818 L33,1820"/>
<path d="M74,1808.5 L84,1821 M79,1806.8 L78.5,1821.5 M84,1809.5 L74.5,1817"/>
</g>
<g stroke="#000" stroke-width="1.6">
<g transform="translate(51.6 1968.7) rotate(43)"><use href="#dcell" fill="#688c02"/><use href="#dinner" fill="url(#dg)" stroke-width="1.3"/></g>
<g transform="translate(82.8 1936.5) rotate(39)"><use href="#dcell" fill="#688c02"/><use href="#dinner" fill="url(#dg)" stroke-width="1.3"/></g>
<g transform="translate(115.2 1901) rotate(42)"><use href="#dcell" fill="#688c02"/><use href="#dinner" fill="url(#dg)" stroke-width="1.3"/></g>
</g>
<path d="M3.7,2100 C3,2085 12,2078 28,2074 C50,2070 75,2066 90,2058 C105,2048 110,2039.7 122,2039.7 C140,2040 151,2058 151,2075 C151,2095 135,2110 110,2120 C85,2128 55,2130 30,2128 C12,2125 4,2112 3.7,2100 Z" fill="#808080" stroke="#000" stroke-width="2"/>
<path d="M142.5,2050 C140,2042 135,2033 137,2028 C139,2023 145,2023 148.6,2028 C152,2033 155,2046 160,2046 C166,2046 166,2038 165,2033 C163,2027 161,2022 167,2020 C172,2018 179,2021 187.6,2014" fill="none" stroke="#000" stroke-width="1.6"/>
</svg>
</body></html>
